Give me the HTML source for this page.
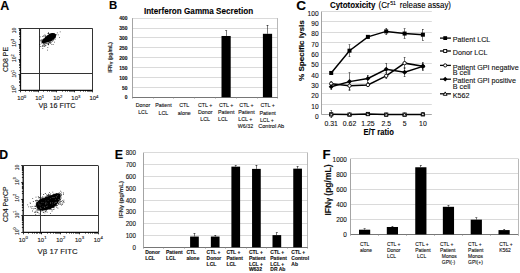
<!DOCTYPE html>
<html><head><meta charset="utf-8"><style>
html,body{margin:0;padding:0;background:#fff;overflow:hidden;width:520px;height:273px;}
svg{display:block;font-family:"Liberation Sans", sans-serif;}
text{stroke:#000;stroke-width:0.12px;paint-order:stroke;}
</style></head><body>
<svg width="520" height="273" viewBox="0 0 520 273">
<rect width="520" height="273" fill="#fff"/>
<line x1="20.50" y1="28.50" x2="92.70" y2="28.50" stroke="#333" stroke-width="1.0"/>
<line x1="92.50" y1="28.60" x2="92.50" y2="90.30" stroke="#333" stroke-width="1.0"/>
<line x1="20.50" y1="28.60" x2="20.50" y2="90.30" stroke="#111" stroke-width="1.3"/>
<line x1="20.50" y1="90.30" x2="92.70" y2="90.30" stroke="#111" stroke-width="1.3"/>
<line x1="39.50" y1="28.60" x2="39.50" y2="90.30" stroke="#333" stroke-width="1.0"/>
<line x1="20.50" y1="73.50" x2="92.70" y2="73.50" stroke="#333" stroke-width="1.0"/>
<line x1="20.50" y1="90.30" x2="20.50" y2="92.30" stroke="#000" stroke-width="0.8"/>
<line x1="18.50" y1="90.50" x2="20.50" y2="90.50" stroke="#000" stroke-width="0.8"/>
<line x1="25.50" y1="90.30" x2="25.50" y2="91.60" stroke="#000" stroke-width="0.8"/>
<line x1="19.20" y1="85.50" x2="20.50" y2="85.50" stroke="#000" stroke-width="0.8"/>
<line x1="29.50" y1="90.30" x2="29.50" y2="91.60" stroke="#000" stroke-width="0.8"/>
<line x1="19.20" y1="82.50" x2="20.50" y2="82.50" stroke="#000" stroke-width="0.8"/>
<line x1="31.50" y1="90.30" x2="31.50" y2="91.60" stroke="#000" stroke-width="0.8"/>
<line x1="19.20" y1="81.50" x2="20.50" y2="81.50" stroke="#000" stroke-width="0.8"/>
<line x1="33.50" y1="90.30" x2="33.50" y2="91.60" stroke="#000" stroke-width="0.8"/>
<line x1="19.20" y1="79.50" x2="20.50" y2="79.50" stroke="#000" stroke-width="0.8"/>
<line x1="34.50" y1="90.30" x2="34.50" y2="91.60" stroke="#000" stroke-width="0.8"/>
<line x1="19.20" y1="78.50" x2="20.50" y2="78.50" stroke="#000" stroke-width="0.8"/>
<line x1="35.50" y1="90.30" x2="35.50" y2="91.60" stroke="#000" stroke-width="0.8"/>
<line x1="19.20" y1="77.50" x2="20.50" y2="77.50" stroke="#000" stroke-width="0.8"/>
<line x1="36.50" y1="90.30" x2="36.50" y2="91.60" stroke="#000" stroke-width="0.8"/>
<line x1="19.20" y1="76.50" x2="20.50" y2="76.50" stroke="#000" stroke-width="0.8"/>
<line x1="37.50" y1="90.30" x2="37.50" y2="91.60" stroke="#000" stroke-width="0.8"/>
<line x1="19.20" y1="75.50" x2="20.50" y2="75.50" stroke="#000" stroke-width="0.8"/>
<line x1="38.50" y1="90.30" x2="38.50" y2="92.30" stroke="#000" stroke-width="0.8"/>
<line x1="18.50" y1="74.50" x2="20.50" y2="74.50" stroke="#000" stroke-width="0.8"/>
<line x1="43.50" y1="90.30" x2="43.50" y2="91.60" stroke="#000" stroke-width="0.8"/>
<line x1="19.20" y1="70.50" x2="20.50" y2="70.50" stroke="#000" stroke-width="0.8"/>
<line x1="47.50" y1="90.30" x2="47.50" y2="91.60" stroke="#000" stroke-width="0.8"/>
<line x1="19.20" y1="67.50" x2="20.50" y2="67.50" stroke="#000" stroke-width="0.8"/>
<line x1="49.50" y1="90.30" x2="49.50" y2="91.60" stroke="#000" stroke-width="0.8"/>
<line x1="19.20" y1="65.50" x2="20.50" y2="65.50" stroke="#000" stroke-width="0.8"/>
<line x1="51.50" y1="90.30" x2="51.50" y2="91.60" stroke="#000" stroke-width="0.8"/>
<line x1="19.20" y1="64.50" x2="20.50" y2="64.50" stroke="#000" stroke-width="0.8"/>
<line x1="52.50" y1="90.30" x2="52.50" y2="91.60" stroke="#000" stroke-width="0.8"/>
<line x1="19.20" y1="62.50" x2="20.50" y2="62.50" stroke="#000" stroke-width="0.8"/>
<line x1="53.50" y1="90.30" x2="53.50" y2="91.60" stroke="#000" stroke-width="0.8"/>
<line x1="19.20" y1="61.50" x2="20.50" y2="61.50" stroke="#000" stroke-width="0.8"/>
<line x1="54.50" y1="90.30" x2="54.50" y2="91.60" stroke="#000" stroke-width="0.8"/>
<line x1="19.20" y1="60.50" x2="20.50" y2="60.50" stroke="#000" stroke-width="0.8"/>
<line x1="55.50" y1="90.30" x2="55.50" y2="91.60" stroke="#000" stroke-width="0.8"/>
<line x1="19.20" y1="60.50" x2="20.50" y2="60.50" stroke="#000" stroke-width="0.8"/>
<line x1="56.50" y1="90.30" x2="56.50" y2="92.30" stroke="#000" stroke-width="0.8"/>
<line x1="18.50" y1="59.50" x2="20.50" y2="59.50" stroke="#000" stroke-width="0.8"/>
<line x1="62.50" y1="90.30" x2="62.50" y2="91.60" stroke="#000" stroke-width="0.8"/>
<line x1="19.20" y1="54.50" x2="20.50" y2="54.50" stroke="#000" stroke-width="0.8"/>
<line x1="65.50" y1="90.30" x2="65.50" y2="91.60" stroke="#000" stroke-width="0.8"/>
<line x1="19.20" y1="52.50" x2="20.50" y2="52.50" stroke="#000" stroke-width="0.8"/>
<line x1="67.50" y1="90.30" x2="67.50" y2="91.60" stroke="#000" stroke-width="0.8"/>
<line x1="19.20" y1="50.50" x2="20.50" y2="50.50" stroke="#000" stroke-width="0.8"/>
<line x1="69.50" y1="90.30" x2="69.50" y2="91.60" stroke="#000" stroke-width="0.8"/>
<line x1="19.20" y1="48.50" x2="20.50" y2="48.50" stroke="#000" stroke-width="0.8"/>
<line x1="70.50" y1="90.30" x2="70.50" y2="91.60" stroke="#000" stroke-width="0.8"/>
<line x1="19.20" y1="47.50" x2="20.50" y2="47.50" stroke="#000" stroke-width="0.8"/>
<line x1="71.50" y1="90.30" x2="71.50" y2="91.60" stroke="#000" stroke-width="0.8"/>
<line x1="19.20" y1="46.50" x2="20.50" y2="46.50" stroke="#000" stroke-width="0.8"/>
<line x1="72.50" y1="90.30" x2="72.50" y2="91.60" stroke="#000" stroke-width="0.8"/>
<line x1="19.20" y1="45.50" x2="20.50" y2="45.50" stroke="#000" stroke-width="0.8"/>
<line x1="73.50" y1="90.30" x2="73.50" y2="91.60" stroke="#000" stroke-width="0.8"/>
<line x1="19.20" y1="44.50" x2="20.50" y2="44.50" stroke="#000" stroke-width="0.8"/>
<line x1="74.50" y1="90.30" x2="74.50" y2="92.30" stroke="#000" stroke-width="0.8"/>
<line x1="18.50" y1="44.50" x2="20.50" y2="44.50" stroke="#000" stroke-width="0.8"/>
<line x1="80.50" y1="90.30" x2="80.50" y2="91.60" stroke="#000" stroke-width="0.8"/>
<line x1="19.20" y1="39.50" x2="20.50" y2="39.50" stroke="#000" stroke-width="0.8"/>
<line x1="83.50" y1="90.30" x2="83.50" y2="91.60" stroke="#000" stroke-width="0.8"/>
<line x1="19.20" y1="36.50" x2="20.50" y2="36.50" stroke="#000" stroke-width="0.8"/>
<line x1="85.50" y1="90.30" x2="85.50" y2="91.60" stroke="#000" stroke-width="0.8"/>
<line x1="19.20" y1="34.50" x2="20.50" y2="34.50" stroke="#000" stroke-width="0.8"/>
<line x1="87.50" y1="90.30" x2="87.50" y2="91.60" stroke="#000" stroke-width="0.8"/>
<line x1="19.20" y1="33.50" x2="20.50" y2="33.50" stroke="#000" stroke-width="0.8"/>
<line x1="88.50" y1="90.30" x2="88.50" y2="91.60" stroke="#000" stroke-width="0.8"/>
<line x1="19.20" y1="32.50" x2="20.50" y2="32.50" stroke="#000" stroke-width="0.8"/>
<line x1="89.50" y1="90.30" x2="89.50" y2="91.60" stroke="#000" stroke-width="0.8"/>
<line x1="19.20" y1="30.50" x2="20.50" y2="30.50" stroke="#000" stroke-width="0.8"/>
<line x1="90.50" y1="90.30" x2="90.50" y2="91.60" stroke="#000" stroke-width="0.8"/>
<line x1="19.20" y1="30.50" x2="20.50" y2="30.50" stroke="#000" stroke-width="0.8"/>
<line x1="91.50" y1="90.30" x2="91.50" y2="91.60" stroke="#000" stroke-width="0.8"/>
<line x1="19.20" y1="29.50" x2="20.50" y2="29.50" stroke="#000" stroke-width="0.8"/>
<line x1="92.50" y1="90.30" x2="92.50" y2="92.30" stroke="#000" stroke-width="0.8"/>
<line x1="18.50" y1="28.50" x2="20.50" y2="28.50" stroke="#000" stroke-width="0.8"/>
<text x="21.70" y="100.00" font-size="5.9" text-anchor="middle" fill="#222">10<tspan font-size="4.3" dy="-2.5">0</tspan></text>
<text x="16.20" y="89.10" font-size="5.0" text-anchor="middle" fill="#222" transform="rotate(-90 16.20 89.10)">10<tspan font-size="3.8" dy="-2.3">0</tspan></text>
<text x="39.75" y="100.00" font-size="5.9" text-anchor="middle" fill="#222">10<tspan font-size="4.3" dy="-2.5">1</tspan></text>
<text x="16.20" y="73.67" font-size="5.0" text-anchor="middle" fill="#222" transform="rotate(-90 16.20 73.67)">10<tspan font-size="3.8" dy="-2.3">1</tspan></text>
<text x="57.80" y="100.00" font-size="5.9" text-anchor="middle" fill="#222">10<tspan font-size="4.3" dy="-2.5">2</tspan></text>
<text x="16.20" y="58.25" font-size="5.0" text-anchor="middle" fill="#222" transform="rotate(-90 16.20 58.25)">10<tspan font-size="3.8" dy="-2.3">2</tspan></text>
<text x="75.85" y="100.00" font-size="5.9" text-anchor="middle" fill="#222">10<tspan font-size="4.3" dy="-2.5">3</tspan></text>
<text x="16.20" y="42.82" font-size="5.0" text-anchor="middle" fill="#222" transform="rotate(-90 16.20 42.82)">10<tspan font-size="3.8" dy="-2.3">3</tspan></text>
<text x="93.90" y="100.00" font-size="5.9" text-anchor="middle" fill="#222">10<tspan font-size="4.3" dy="-2.5">4</tspan></text>
<text x="16.20" y="30.40" font-size="5.0" text-anchor="middle" fill="#222" transform="rotate(-90 16.20 30.40)">10</text>
<text transform="translate(0.30 9.50)" font-size="12.50" text-anchor="start" font-weight="bold" fill="#000">A</text>
<text transform="translate(57.00 108.20)" font-size="7.30" text-anchor="middle" fill="#111" textLength="37.20" lengthAdjust="spacingAndGlyphs">V&#946; 16 FITC</text>
<text transform="translate(8.20 59.50) rotate(-90)" font-size="7.30" text-anchor="middle" fill="#111" textLength="25.20" lengthAdjust="spacingAndGlyphs">CD8 PE</text>
<line x1="23.20" y1="165.50" x2="98.20" y2="165.50" stroke="#333" stroke-width="1.0"/>
<line x1="98.50" y1="165.70" x2="98.50" y2="232.30" stroke="#333" stroke-width="1.0"/>
<line x1="23.20" y1="165.70" x2="23.20" y2="232.30" stroke="#111" stroke-width="1.3"/>
<line x1="23.20" y1="232.30" x2="98.20" y2="232.30" stroke="#111" stroke-width="1.3"/>
<line x1="40.50" y1="165.70" x2="40.50" y2="232.30" stroke="#333" stroke-width="1.0"/>
<line x1="23.20" y1="215.50" x2="98.20" y2="215.50" stroke="#333" stroke-width="1.0"/>
<line x1="23.50" y1="232.30" x2="23.50" y2="234.30" stroke="#000" stroke-width="0.8"/>
<line x1="21.20" y1="232.50" x2="23.20" y2="232.50" stroke="#000" stroke-width="0.8"/>
<line x1="28.50" y1="232.30" x2="28.50" y2="233.60" stroke="#000" stroke-width="0.8"/>
<line x1="21.90" y1="227.50" x2="23.20" y2="227.50" stroke="#000" stroke-width="0.8"/>
<line x1="32.50" y1="232.30" x2="32.50" y2="233.60" stroke="#000" stroke-width="0.8"/>
<line x1="21.90" y1="224.50" x2="23.20" y2="224.50" stroke="#000" stroke-width="0.8"/>
<line x1="34.50" y1="232.30" x2="34.50" y2="233.60" stroke="#000" stroke-width="0.8"/>
<line x1="21.90" y1="222.50" x2="23.20" y2="222.50" stroke="#000" stroke-width="0.8"/>
<line x1="36.50" y1="232.30" x2="36.50" y2="233.60" stroke="#000" stroke-width="0.8"/>
<line x1="21.90" y1="220.50" x2="23.20" y2="220.50" stroke="#000" stroke-width="0.8"/>
<line x1="37.50" y1="232.30" x2="37.50" y2="233.60" stroke="#000" stroke-width="0.8"/>
<line x1="21.90" y1="219.50" x2="23.20" y2="219.50" stroke="#000" stroke-width="0.8"/>
<line x1="39.50" y1="232.30" x2="39.50" y2="233.60" stroke="#000" stroke-width="0.8"/>
<line x1="21.90" y1="218.50" x2="23.20" y2="218.50" stroke="#000" stroke-width="0.8"/>
<line x1="40.50" y1="232.30" x2="40.50" y2="233.60" stroke="#000" stroke-width="0.8"/>
<line x1="21.90" y1="217.50" x2="23.20" y2="217.50" stroke="#000" stroke-width="0.8"/>
<line x1="41.50" y1="232.30" x2="41.50" y2="233.60" stroke="#000" stroke-width="0.8"/>
<line x1="21.90" y1="216.50" x2="23.20" y2="216.50" stroke="#000" stroke-width="0.8"/>
<line x1="41.50" y1="232.30" x2="41.50" y2="234.30" stroke="#000" stroke-width="0.8"/>
<line x1="21.20" y1="215.50" x2="23.20" y2="215.50" stroke="#000" stroke-width="0.8"/>
<line x1="47.50" y1="232.30" x2="47.50" y2="233.60" stroke="#000" stroke-width="0.8"/>
<line x1="21.90" y1="210.50" x2="23.20" y2="210.50" stroke="#000" stroke-width="0.8"/>
<line x1="50.50" y1="232.30" x2="50.50" y2="233.60" stroke="#000" stroke-width="0.8"/>
<line x1="21.90" y1="207.50" x2="23.20" y2="207.50" stroke="#000" stroke-width="0.8"/>
<line x1="53.50" y1="232.30" x2="53.50" y2="233.60" stroke="#000" stroke-width="0.8"/>
<line x1="21.90" y1="205.50" x2="23.20" y2="205.50" stroke="#000" stroke-width="0.8"/>
<line x1="55.50" y1="232.30" x2="55.50" y2="233.60" stroke="#000" stroke-width="0.8"/>
<line x1="21.90" y1="204.50" x2="23.20" y2="204.50" stroke="#000" stroke-width="0.8"/>
<line x1="56.50" y1="232.30" x2="56.50" y2="233.60" stroke="#000" stroke-width="0.8"/>
<line x1="21.90" y1="202.50" x2="23.20" y2="202.50" stroke="#000" stroke-width="0.8"/>
<line x1="57.50" y1="232.30" x2="57.50" y2="233.60" stroke="#000" stroke-width="0.8"/>
<line x1="21.90" y1="201.50" x2="23.20" y2="201.50" stroke="#000" stroke-width="0.8"/>
<line x1="58.50" y1="232.30" x2="58.50" y2="233.60" stroke="#000" stroke-width="0.8"/>
<line x1="21.90" y1="200.50" x2="23.20" y2="200.50" stroke="#000" stroke-width="0.8"/>
<line x1="59.50" y1="232.30" x2="59.50" y2="233.60" stroke="#000" stroke-width="0.8"/>
<line x1="21.90" y1="199.50" x2="23.20" y2="199.50" stroke="#000" stroke-width="0.8"/>
<line x1="60.50" y1="232.30" x2="60.50" y2="234.30" stroke="#000" stroke-width="0.8"/>
<line x1="21.20" y1="199.50" x2="23.20" y2="199.50" stroke="#000" stroke-width="0.8"/>
<line x1="66.50" y1="232.30" x2="66.50" y2="233.60" stroke="#000" stroke-width="0.8"/>
<line x1="21.90" y1="193.50" x2="23.20" y2="193.50" stroke="#000" stroke-width="0.8"/>
<line x1="69.50" y1="232.30" x2="69.50" y2="233.60" stroke="#000" stroke-width="0.8"/>
<line x1="21.90" y1="191.50" x2="23.20" y2="191.50" stroke="#000" stroke-width="0.8"/>
<line x1="71.50" y1="232.30" x2="71.50" y2="233.60" stroke="#000" stroke-width="0.8"/>
<line x1="21.90" y1="188.50" x2="23.20" y2="188.50" stroke="#000" stroke-width="0.8"/>
<line x1="73.50" y1="232.30" x2="73.50" y2="233.60" stroke="#000" stroke-width="0.8"/>
<line x1="21.90" y1="187.50" x2="23.20" y2="187.50" stroke="#000" stroke-width="0.8"/>
<line x1="75.50" y1="232.30" x2="75.50" y2="233.60" stroke="#000" stroke-width="0.8"/>
<line x1="21.90" y1="186.50" x2="23.20" y2="186.50" stroke="#000" stroke-width="0.8"/>
<line x1="76.50" y1="232.30" x2="76.50" y2="233.60" stroke="#000" stroke-width="0.8"/>
<line x1="21.90" y1="184.50" x2="23.20" y2="184.50" stroke="#000" stroke-width="0.8"/>
<line x1="77.50" y1="232.30" x2="77.50" y2="233.60" stroke="#000" stroke-width="0.8"/>
<line x1="21.90" y1="183.50" x2="23.20" y2="183.50" stroke="#000" stroke-width="0.8"/>
<line x1="78.50" y1="232.30" x2="78.50" y2="233.60" stroke="#000" stroke-width="0.8"/>
<line x1="21.90" y1="183.50" x2="23.20" y2="183.50" stroke="#000" stroke-width="0.8"/>
<line x1="79.50" y1="232.30" x2="79.50" y2="234.30" stroke="#000" stroke-width="0.8"/>
<line x1="21.20" y1="182.50" x2="23.20" y2="182.50" stroke="#000" stroke-width="0.8"/>
<line x1="85.50" y1="232.30" x2="85.50" y2="233.60" stroke="#000" stroke-width="0.8"/>
<line x1="21.90" y1="177.50" x2="23.20" y2="177.50" stroke="#000" stroke-width="0.8"/>
<line x1="88.50" y1="232.30" x2="88.50" y2="233.60" stroke="#000" stroke-width="0.8"/>
<line x1="21.90" y1="174.50" x2="23.20" y2="174.50" stroke="#000" stroke-width="0.8"/>
<line x1="90.50" y1="232.30" x2="90.50" y2="233.60" stroke="#000" stroke-width="0.8"/>
<line x1="21.90" y1="172.50" x2="23.20" y2="172.50" stroke="#000" stroke-width="0.8"/>
<line x1="92.50" y1="232.30" x2="92.50" y2="233.60" stroke="#000" stroke-width="0.8"/>
<line x1="21.90" y1="170.50" x2="23.20" y2="170.50" stroke="#000" stroke-width="0.8"/>
<line x1="94.50" y1="232.30" x2="94.50" y2="233.60" stroke="#000" stroke-width="0.8"/>
<line x1="21.90" y1="169.50" x2="23.20" y2="169.50" stroke="#000" stroke-width="0.8"/>
<line x1="95.50" y1="232.30" x2="95.50" y2="233.60" stroke="#000" stroke-width="0.8"/>
<line x1="21.90" y1="168.50" x2="23.20" y2="168.50" stroke="#000" stroke-width="0.8"/>
<line x1="96.50" y1="232.30" x2="96.50" y2="233.60" stroke="#000" stroke-width="0.8"/>
<line x1="21.90" y1="167.50" x2="23.20" y2="167.50" stroke="#000" stroke-width="0.8"/>
<line x1="97.50" y1="232.30" x2="97.50" y2="233.60" stroke="#000" stroke-width="0.8"/>
<line x1="21.90" y1="166.50" x2="23.20" y2="166.50" stroke="#000" stroke-width="0.8"/>
<line x1="98.50" y1="232.30" x2="98.50" y2="234.30" stroke="#000" stroke-width="0.8"/>
<line x1="21.20" y1="165.50" x2="23.20" y2="165.50" stroke="#000" stroke-width="0.8"/>
<text x="23.30" y="241.80" font-size="5.9" text-anchor="middle" fill="#222">10<tspan font-size="4.3" dy="-2.5">0</tspan></text>
<text x="18.60" y="231.10" font-size="5.0" text-anchor="middle" fill="#222" transform="rotate(-90 18.60 231.10)">10<tspan font-size="3.8" dy="-2.3">0</tspan></text>
<text x="42.05" y="241.80" font-size="5.9" text-anchor="middle" fill="#222">10<tspan font-size="4.3" dy="-2.5">1</tspan></text>
<text x="18.60" y="214.45" font-size="5.0" text-anchor="middle" fill="#222" transform="rotate(-90 18.60 214.45)">10<tspan font-size="3.8" dy="-2.3">1</tspan></text>
<text x="60.80" y="241.80" font-size="5.9" text-anchor="middle" fill="#222">10<tspan font-size="4.3" dy="-2.5">2</tspan></text>
<text x="18.60" y="197.80" font-size="5.0" text-anchor="middle" fill="#222" transform="rotate(-90 18.60 197.80)">10<tspan font-size="3.8" dy="-2.3">2</tspan></text>
<text x="79.55" y="241.80" font-size="5.9" text-anchor="middle" fill="#222">10<tspan font-size="4.3" dy="-2.5">3</tspan></text>
<text x="18.60" y="181.15" font-size="5.0" text-anchor="middle" fill="#222" transform="rotate(-90 18.60 181.15)">10<tspan font-size="3.8" dy="-2.3">3</tspan></text>
<text x="98.30" y="241.80" font-size="5.9" text-anchor="middle" fill="#222">10<tspan font-size="4.3" dy="-2.5">4</tspan></text>
<text x="18.60" y="167.50" font-size="5.0" text-anchor="middle" fill="#222" transform="rotate(-90 18.60 167.50)">10</text>
<text transform="translate(-0.80 158.60)" font-size="12.20" text-anchor="start" font-weight="bold" fill="#000">D</text>
<text transform="translate(57.60 254.30)" font-size="7.80" text-anchor="middle" fill="#111" textLength="40.00" lengthAdjust="spacingAndGlyphs">V&#946; 17 FITC</text>
<text transform="translate(7.60 204.20) rotate(-90)" font-size="7.80" text-anchor="middle" fill="#111" textLength="35.50" lengthAdjust="spacingAndGlyphs">CD4 PerCP</text>
<circle cx="43.4" cy="41.8" r="1.7" fill="#000"/>
<circle cx="45.2" cy="40.6" r="2.4" fill="#000"/>
<circle cx="47.2" cy="39.3" r="2.9" fill="#000"/>
<circle cx="49.3" cy="38.0" r="3.2" fill="#000"/>
<circle cx="51.2" cy="36.8" r="3.3" fill="#000"/>
<circle cx="52.8" cy="36.0" r="3.0" fill="#000"/>
<circle cx="53.8" cy="35.6" r="2.2" fill="#000"/>
<path d="M44.4,42.6h0.8v0.8h-0.8zM51.0,35.7h0.8v0.8h-0.8zM43.4,41.9h0.8v0.8h-0.8zM51.3,40.1h0.8v0.8h-0.8zM42.2,39.2h0.8v0.8h-0.8zM51.3,38.3h0.8v0.8h-0.8zM54.9,37.5h0.8v0.8h-0.8zM47.5,38.7h0.8v0.8h-0.8zM56.9,32.5h0.8v0.8h-0.8zM43.9,38.5h0.8v0.8h-0.8zM48.7,39.1h0.8v0.8h-0.8zM46.9,39.7h0.8v0.8h-0.8zM50.1,39.8h0.8v0.8h-0.8zM52.3,36.9h0.8v0.8h-0.8zM42.8,44.5h0.8v0.8h-0.8zM43.0,41.9h0.8v0.8h-0.8zM43.0,42.4h0.8v0.8h-0.8zM45.7,41.2h0.8v0.8h-0.8zM59.8,31.4h0.8v0.8h-0.8zM49.4,34.4h0.8v0.8h-0.8zM48.1,41.0h0.8v0.8h-0.8zM48.4,40.0h0.8v0.8h-0.8zM47.2,36.7h0.8v0.8h-0.8zM49.1,36.1h0.8v0.8h-0.8zM54.1,33.7h0.8v0.8h-0.8zM50.6,37.4h0.8v0.8h-0.8zM50.8,35.6h0.8v0.8h-0.8zM51.6,36.5h0.8v0.8h-0.8zM53.5,37.4h0.8v0.8h-0.8zM47.7,37.1h0.8v0.8h-0.8zM51.5,38.2h0.8v0.8h-0.8zM53.5,34.5h0.8v0.8h-0.8zM50.8,38.8h0.8v0.8h-0.8zM49.5,38.8h0.8v0.8h-0.8zM48.1,37.4h0.8v0.8h-0.8zM44.1,40.5h0.8v0.8h-0.8zM52.3,40.7h0.8v0.8h-0.8zM53.0,38.9h0.8v0.8h-0.8zM51.9,38.6h0.8v0.8h-0.8zM49.9,40.1h0.8v0.8h-0.8zM54.0,34.3h0.8v0.8h-0.8zM48.3,44.5h0.8v0.8h-0.8zM50.3,40.4h0.8v0.8h-0.8zM49.8,34.7h0.8v0.8h-0.8zM59.1,37.0h0.8v0.8h-0.8zM49.8,40.1h0.8v0.8h-0.8zM47.5,36.9h0.8v0.8h-0.8zM48.3,40.0h0.8v0.8h-0.8zM53.1,37.9h0.8v0.8h-0.8zM50.2,41.6h0.8v0.8h-0.8zM46.6,42.3h0.8v0.8h-0.8zM51.7,35.9h0.8v0.8h-0.8zM40.7,41.3h0.8v0.8h-0.8zM49.7,39.5h0.8v0.8h-0.8zM52.3,33.4h0.8v0.8h-0.8zM49.1,40.3h0.8v0.8h-0.8zM44.5,34.6h0.8v0.8h-0.8zM54.1,41.8h0.8v0.8h-0.8zM50.5,34.9h0.8v0.8h-0.8zM47.0,40.4h0.8v0.8h-0.8zM57.8,34.5h0.8v0.8h-0.8zM50.6,41.9h0.8v0.8h-0.8zM50.3,42.9h0.8v0.8h-0.8zM45.2,39.6h0.8v0.8h-0.8zM52.6,40.2h0.8v0.8h-0.8zM50.9,38.1h0.8v0.8h-0.8zM40.9,41.7h0.8v0.8h-0.8zM45.4,39.3h0.8v0.8h-0.8zM49.8,37.0h0.8v0.8h-0.8zM51.1,37.4h0.8v0.8h-0.8zM47.2,40.0h0.8v0.8h-0.8zM50.8,39.7h0.8v0.8h-0.8zM46.2,39.6h0.8v0.8h-0.8zM45.5,45.3h0.8v0.8h-0.8zM53.1,35.3h0.8v0.8h-0.8zM44.9,37.6h0.8v0.8h-0.8zM49.1,39.0h0.8v0.8h-0.8zM56.2,34.5h0.8v0.8h-0.8zM42.3,35.9h0.8v0.8h-0.8zM53.4,36.2h0.8v0.8h-0.8zM42.8,43.0h0.8v0.8h-0.8zM47.1,49.7h0.8v0.8h-0.8zM52.9,37.6h0.8v0.8h-0.8zM44.8,35.1h0.8v0.8h-0.8zM45.7,36.2h0.8v0.8h-0.8zM47.5,33.3h0.8v0.8h-0.8zM46.6,43.5h0.8v0.8h-0.8zM52.4,32.9h0.8v0.8h-0.8zM43.9,44.3h0.8v0.8h-0.8zM49.9,35.1h0.8v0.8h-0.8zM44.8,39.2h0.8v0.8h-0.8zM43.1,40.4h0.8v0.8h-0.8zM53.5,37.5h0.8v0.8h-0.8zM55.3,34.1h0.8v0.8h-0.8zM46.4,37.3h0.8v0.8h-0.8zM46.0,36.6h0.8v0.8h-0.8zM42.9,44.5h0.8v0.8h-0.8zM54.4,37.4h0.8v0.8h-0.8zM53.2,36.5h0.8v0.8h-0.8zM45.8,40.8h0.8v0.8h-0.8zM45.4,37.6h0.8v0.8h-0.8zM40.3,39.9h0.8v0.8h-0.8zM48.4,39.3h0.8v0.8h-0.8zM48.4,43.0h0.8v0.8h-0.8zM49.6,39.8h0.8v0.8h-0.8zM51.4,34.6h0.8v0.8h-0.8zM42.2,45.0h0.8v0.8h-0.8zM47.5,43.2h0.8v0.8h-0.8zM50.7,40.3h0.8v0.8h-0.8zM48.2,33.1h0.8v0.8h-0.8zM49.9,36.0h0.8v0.8h-0.8zM45.0,39.9h0.8v0.8h-0.8zM52.1,39.0h0.8v0.8h-0.8zM49.6,33.3h0.8v0.8h-0.8zM43.0,35.6h0.8v0.8h-0.8zM48.6,40.4h0.8v0.8h-0.8zM45.8,41.2h0.8v0.8h-0.8zM50.3,40.5h0.8v0.8h-0.8zM44.2,39.2h0.8v0.8h-0.8zM47.8,44.3h0.8v0.8h-0.8zM51.9,36.3h0.8v0.8h-0.8zM49.1,38.7h0.8v0.8h-0.8zM48.6,38.1h0.8v0.8h-0.8zM45.4,37.2h0.8v0.8h-0.8zM48.1,43.8h0.8v0.8h-0.8zM50.2,37.9h0.8v0.8h-0.8zM47.5,39.6h0.8v0.8h-0.8zM48.6,36.9h0.8v0.8h-0.8zM49.2,39.0h0.8v0.8h-0.8zM44.5,39.1h0.8v0.8h-0.8zM43.3,39.1h0.8v0.8h-0.8zM48.2,32.2h0.8v0.8h-0.8zM46.5,38.4h0.8v0.8h-0.8zM46.1,40.6h0.8v0.8h-0.8zM52.3,36.6h0.8v0.8h-0.8zM46.9,38.1h0.8v0.8h-0.8zM48.9,41.1h0.8v0.8h-0.8zM45.3,37.6h0.8v0.8h-0.8zM42.3,39.7h0.8v0.8h-0.8zM44.7,44.4h0.8v0.8h-0.8zM49.1,37.7h0.8v0.8h-0.8zM52.5,34.3h0.8v0.8h-0.8zM51.9,38.9h0.8v0.8h-0.8zM40.7,39.4h0.8v0.8h-0.8zM46.1,42.9h0.8v0.8h-0.8zM51.2,33.6h0.8v0.8h-0.8zM51.4,35.8h0.8v0.8h-0.8zM46.1,38.8h0.8v0.8h-0.8zM44.7,36.1h0.8v0.8h-0.8zM43.1,38.8h0.8v0.8h-0.8z" fill="#000" opacity="0.85"/>
<path d="M40.4,46.1h0.8v0.8h-0.8zM43.7,41.5h0.8v0.8h-0.8zM49.3,39.8h0.8v0.8h-0.8zM47.4,47.2h0.8v0.8h-0.8zM41.6,40.0h0.8v0.8h-0.8zM39.5,44.0h0.8v0.8h-0.8zM49.4,42.5h0.8v0.8h-0.8zM52.8,43.9h0.8v0.8h-0.8zM53.1,39.5h0.8v0.8h-0.8zM51.8,40.4h0.8v0.8h-0.8zM44.9,45.5h0.8v0.8h-0.8zM45.6,41.3h0.8v0.8h-0.8zM54.6,39.0h0.8v0.8h-0.8zM43.8,43.0h0.8v0.8h-0.8zM54.3,35.6h0.8v0.8h-0.8zM49.6,41.8h0.8v0.8h-0.8zM48.7,42.2h0.8v0.8h-0.8zM43.2,42.0h0.8v0.8h-0.8zM44.6,41.5h0.8v0.8h-0.8zM51.4,43.9h0.8v0.8h-0.8zM43.3,45.6h0.8v0.8h-0.8zM40.9,42.7h0.8v0.8h-0.8zM45.1,42.9h0.8v0.8h-0.8zM39.8,36.4h0.8v0.8h-0.8zM50.7,37.9h0.8v0.8h-0.8zM44.5,45.3h0.8v0.8h-0.8zM41.1,39.8h0.8v0.8h-0.8zM48.4,41.9h0.8v0.8h-0.8zM44.0,46.2h0.8v0.8h-0.8zM45.4,38.2h0.8v0.8h-0.8zM52.9,38.3h0.8v0.8h-0.8zM42.2,46.0h0.8v0.8h-0.8zM47.9,44.2h0.8v0.8h-0.8zM42.4,48.0h0.8v0.8h-0.8zM50.6,41.4h0.8v0.8h-0.8z" fill="#000" opacity="0.85"/>
<path d="M36.2,203.4 C37.0,201.0 39.5,199.6 42.5,198.4 C46.0,197.0 49.5,195.6 53.0,194.4 C55.8,193.4 58.6,192.8 60.0,193.8 C61.4,195.0 60.8,197.8 59.4,200.4 C57.8,203.4 55.6,206.0 52.6,207.8 C49.6,209.6 45.8,210.4 42.4,210.4 C39.4,210.4 37.0,209.2 36.4,207.0 C36.0,205.8 36.0,204.4 36.2,203.4 Z" fill="#000"/>
<path d="M54.9,204.7h0.8v0.8h-0.8zM42.6,201.2h0.8v0.8h-0.8zM53.0,207.1h0.8v0.8h-0.8zM49.5,197.4h0.8v0.8h-0.8zM43.9,203.9h0.8v0.8h-0.8zM54.3,199.9h0.8v0.8h-0.8zM46.1,202.4h0.8v0.8h-0.8zM48.7,199.4h0.8v0.8h-0.8zM49.0,203.1h0.8v0.8h-0.8zM58.4,198.1h0.8v0.8h-0.8zM53.1,196.5h0.8v0.8h-0.8zM54.0,200.7h0.8v0.8h-0.8zM45.4,203.5h0.8v0.8h-0.8zM53.6,199.0h0.8v0.8h-0.8zM56.8,204.7h0.8v0.8h-0.8zM60.5,203.6h0.8v0.8h-0.8zM41.5,206.4h0.8v0.8h-0.8zM45.8,207.0h0.8v0.8h-0.8zM49.4,202.8h0.8v0.8h-0.8zM50.6,199.2h0.8v0.8h-0.8zM48.3,199.6h0.8v0.8h-0.8zM60.6,195.7h0.8v0.8h-0.8zM46.4,196.4h0.8v0.8h-0.8zM38.7,203.1h0.8v0.8h-0.8zM54.5,202.8h0.8v0.8h-0.8zM49.5,199.4h0.8v0.8h-0.8zM58.4,194.4h0.8v0.8h-0.8zM44.2,205.9h0.8v0.8h-0.8zM43.0,205.5h0.8v0.8h-0.8zM54.4,199.6h0.8v0.8h-0.8zM51.2,201.4h0.8v0.8h-0.8zM40.4,193.5h0.8v0.8h-0.8zM41.3,205.2h0.8v0.8h-0.8zM38.0,204.4h0.8v0.8h-0.8zM51.7,206.1h0.8v0.8h-0.8zM39.7,203.8h0.8v0.8h-0.8zM50.7,203.4h0.8v0.8h-0.8zM42.8,211.7h0.8v0.8h-0.8zM45.2,207.8h0.8v0.8h-0.8zM48.0,204.1h0.8v0.8h-0.8zM59.7,200.5h0.8v0.8h-0.8zM48.1,198.6h0.8v0.8h-0.8zM42.8,199.1h0.8v0.8h-0.8zM58.8,192.2h0.8v0.8h-0.8zM35.3,213.9h0.8v0.8h-0.8zM55.9,197.9h0.8v0.8h-0.8zM52.6,197.5h0.8v0.8h-0.8zM45.8,205.3h0.8v0.8h-0.8zM50.4,199.8h0.8v0.8h-0.8zM59.5,200.7h0.8v0.8h-0.8zM47.9,198.0h0.8v0.8h-0.8zM49.1,200.8h0.8v0.8h-0.8zM49.3,205.1h0.8v0.8h-0.8zM45.5,204.5h0.8v0.8h-0.8zM54.0,201.4h0.8v0.8h-0.8zM60.2,190.8h0.8v0.8h-0.8zM46.7,198.5h0.8v0.8h-0.8zM51.6,210.7h0.8v0.8h-0.8zM38.3,205.3h0.8v0.8h-0.8zM52.7,200.9h0.8v0.8h-0.8zM52.1,194.8h0.8v0.8h-0.8zM53.3,196.7h0.8v0.8h-0.8zM42.0,207.1h0.8v0.8h-0.8zM50.5,198.6h0.8v0.8h-0.8zM43.4,203.6h0.8v0.8h-0.8zM48.3,201.7h0.8v0.8h-0.8zM39.3,197.0h0.8v0.8h-0.8zM56.8,199.6h0.8v0.8h-0.8zM38.9,200.1h0.8v0.8h-0.8zM43.8,202.5h0.8v0.8h-0.8zM37.5,212.1h0.8v0.8h-0.8zM50.7,200.1h0.8v0.8h-0.8zM51.0,202.1h0.8v0.8h-0.8zM55.2,200.1h0.8v0.8h-0.8zM58.3,204.2h0.8v0.8h-0.8zM46.0,201.5h0.8v0.8h-0.8zM42.9,203.6h0.8v0.8h-0.8zM44.1,204.0h0.8v0.8h-0.8zM51.1,203.2h0.8v0.8h-0.8zM42.9,208.6h0.8v0.8h-0.8zM46.5,202.6h0.8v0.8h-0.8zM42.7,196.8h0.8v0.8h-0.8zM47.7,195.7h0.8v0.8h-0.8zM55.3,199.6h0.8v0.8h-0.8zM58.9,200.5h0.8v0.8h-0.8zM54.7,205.1h0.8v0.8h-0.8zM50.3,207.4h0.8v0.8h-0.8zM48.1,203.4h0.8v0.8h-0.8zM45.1,205.7h0.8v0.8h-0.8zM51.9,198.9h0.8v0.8h-0.8zM40.6,205.2h0.8v0.8h-0.8zM50.8,200.6h0.8v0.8h-0.8zM41.6,202.2h0.8v0.8h-0.8zM43.3,194.1h0.8v0.8h-0.8zM46.8,208.4h0.8v0.8h-0.8zM40.4,204.6h0.8v0.8h-0.8zM59.7,200.4h0.8v0.8h-0.8zM53.9,199.5h0.8v0.8h-0.8zM44.3,215.0h0.8v0.8h-0.8zM50.6,202.3h0.8v0.8h-0.8zM59.6,200.9h0.8v0.8h-0.8zM47.3,198.4h0.8v0.8h-0.8zM47.3,202.1h0.8v0.8h-0.8zM43.2,201.0h0.8v0.8h-0.8zM42.2,204.3h0.8v0.8h-0.8zM45.4,205.0h0.8v0.8h-0.8zM55.1,200.8h0.8v0.8h-0.8zM50.7,207.3h0.8v0.8h-0.8zM50.5,195.7h0.8v0.8h-0.8zM44.3,204.6h0.8v0.8h-0.8zM44.1,206.9h0.8v0.8h-0.8zM35.2,200.2h0.8v0.8h-0.8zM55.2,201.7h0.8v0.8h-0.8zM38.8,206.4h0.8v0.8h-0.8zM55.1,195.2h0.8v0.8h-0.8zM39.6,201.1h0.8v0.8h-0.8zM40.1,198.9h0.8v0.8h-0.8zM43.5,198.6h0.8v0.8h-0.8zM51.8,209.5h0.8v0.8h-0.8zM43.3,207.8h0.8v0.8h-0.8zM52.4,191.7h0.8v0.8h-0.8zM49.1,201.9h0.8v0.8h-0.8zM47.4,205.7h0.8v0.8h-0.8zM46.2,204.5h0.8v0.8h-0.8zM45.9,202.7h0.8v0.8h-0.8zM46.7,211.7h0.8v0.8h-0.8zM46.6,198.6h0.8v0.8h-0.8zM62.4,202.6h0.8v0.8h-0.8zM46.3,200.5h0.8v0.8h-0.8zM45.6,208.1h0.8v0.8h-0.8zM45.5,200.6h0.8v0.8h-0.8zM53.2,199.2h0.8v0.8h-0.8zM50.7,208.8h0.8v0.8h-0.8zM55.4,204.2h0.8v0.8h-0.8zM52.7,205.5h0.8v0.8h-0.8zM48.7,205.8h0.8v0.8h-0.8zM54.2,198.3h0.8v0.8h-0.8zM41.3,207.1h0.8v0.8h-0.8zM48.5,204.5h0.8v0.8h-0.8zM45.5,205.4h0.8v0.8h-0.8zM57.5,207.7h0.8v0.8h-0.8zM59.8,199.1h0.8v0.8h-0.8zM56.3,196.6h0.8v0.8h-0.8zM55.8,199.8h0.8v0.8h-0.8zM57.0,200.0h0.8v0.8h-0.8zM46.1,200.4h0.8v0.8h-0.8zM56.1,199.3h0.8v0.8h-0.8zM53.4,202.0h0.8v0.8h-0.8zM36.8,209.2h0.8v0.8h-0.8zM46.7,204.4h0.8v0.8h-0.8zM48.9,195.0h0.8v0.8h-0.8zM46.4,202.8h0.8v0.8h-0.8zM52.0,204.4h0.8v0.8h-0.8zM44.0,203.1h0.8v0.8h-0.8zM49.8,194.6h0.8v0.8h-0.8zM58.4,194.5h0.8v0.8h-0.8zM56.6,199.4h0.8v0.8h-0.8zM61.3,201.0h0.8v0.8h-0.8zM45.9,196.6h0.8v0.8h-0.8zM49.6,203.0h0.8v0.8h-0.8zM50.0,196.7h0.8v0.8h-0.8zM42.3,201.6h0.8v0.8h-0.8zM49.0,198.6h0.8v0.8h-0.8zM48.9,205.6h0.8v0.8h-0.8zM47.7,207.7h0.8v0.8h-0.8zM49.9,200.7h0.8v0.8h-0.8zM55.7,201.2h0.8v0.8h-0.8zM45.9,201.0h0.8v0.8h-0.8zM48.6,203.5h0.8v0.8h-0.8zM55.7,200.3h0.8v0.8h-0.8zM42.9,199.3h0.8v0.8h-0.8zM50.5,202.9h0.8v0.8h-0.8zM54.6,197.7h0.8v0.8h-0.8zM41.7,208.2h0.8v0.8h-0.8zM45.7,198.6h0.8v0.8h-0.8zM59.7,201.1h0.8v0.8h-0.8zM49.2,203.0h0.8v0.8h-0.8zM45.2,207.3h0.8v0.8h-0.8zM45.2,201.8h0.8v0.8h-0.8zM45.1,199.2h0.8v0.8h-0.8zM56.9,205.2h0.8v0.8h-0.8zM50.3,193.5h0.8v0.8h-0.8zM45.7,200.8h0.8v0.8h-0.8zM47.8,194.2h0.8v0.8h-0.8zM34.7,206.0h0.8v0.8h-0.8zM54.1,199.2h0.8v0.8h-0.8zM60.7,194.0h0.8v0.8h-0.8zM48.5,201.6h0.8v0.8h-0.8zM44.8,207.9h0.8v0.8h-0.8zM39.0,201.9h0.8v0.8h-0.8zM45.6,201.5h0.8v0.8h-0.8zM54.6,197.7h0.8v0.8h-0.8zM50.8,199.4h0.8v0.8h-0.8zM56.2,199.0h0.8v0.8h-0.8zM47.8,196.1h0.8v0.8h-0.8zM51.8,198.3h0.8v0.8h-0.8zM54.5,201.7h0.8v0.8h-0.8zM53.2,204.6h0.8v0.8h-0.8zM49.5,198.4h0.8v0.8h-0.8zM49.6,202.4h0.8v0.8h-0.8zM42.1,207.1h0.8v0.8h-0.8zM57.7,199.4h0.8v0.8h-0.8zM49.7,203.5h0.8v0.8h-0.8zM54.4,197.7h0.8v0.8h-0.8zM53.2,197.4h0.8v0.8h-0.8zM52.3,202.6h0.8v0.8h-0.8zM41.5,207.5h0.8v0.8h-0.8zM47.5,196.1h0.8v0.8h-0.8zM44.8,201.2h0.8v0.8h-0.8zM43.6,205.8h0.8v0.8h-0.8zM43.7,204.3h0.8v0.8h-0.8zM41.5,204.0h0.8v0.8h-0.8zM60.1,199.1h0.8v0.8h-0.8zM37.7,202.9h0.8v0.8h-0.8zM45.4,197.1h0.8v0.8h-0.8zM54.3,199.7h0.8v0.8h-0.8zM48.1,202.5h0.8v0.8h-0.8zM42.7,200.1h0.8v0.8h-0.8zM27.3,204.5h0.8v0.8h-0.8zM50.8,203.9h0.8v0.8h-0.8zM44.8,196.6h0.8v0.8h-0.8zM46.4,203.1h0.8v0.8h-0.8zM42.4,209.9h0.8v0.8h-0.8zM41.6,205.0h0.8v0.8h-0.8zM43.0,207.9h0.8v0.8h-0.8zM39.5,202.3h0.8v0.8h-0.8zM53.5,195.3h0.8v0.8h-0.8zM45.8,205.3h0.8v0.8h-0.8zM48.2,195.5h0.8v0.8h-0.8zM51.7,199.7h0.8v0.8h-0.8zM53.5,193.5h0.8v0.8h-0.8zM53.6,201.7h0.8v0.8h-0.8zM45.5,201.7h0.8v0.8h-0.8zM49.8,199.0h0.8v0.8h-0.8zM45.3,200.5h0.8v0.8h-0.8zM50.1,204.1h0.8v0.8h-0.8zM38.8,206.2h0.8v0.8h-0.8zM52.3,206.4h0.8v0.8h-0.8zM45.6,208.2h0.8v0.8h-0.8zM46.3,204.9h0.8v0.8h-0.8zM50.1,202.6h0.8v0.8h-0.8zM45.0,199.8h0.8v0.8h-0.8zM59.4,203.4h0.8v0.8h-0.8zM47.5,201.9h0.8v0.8h-0.8zM45.3,198.3h0.8v0.8h-0.8zM42.2,206.3h0.8v0.8h-0.8zM53.8,199.1h0.8v0.8h-0.8zM41.3,200.9h0.8v0.8h-0.8zM45.6,206.0h0.8v0.8h-0.8zM46.8,197.3h0.8v0.8h-0.8zM41.8,206.1h0.8v0.8h-0.8zM52.5,207.3h0.8v0.8h-0.8zM57.4,199.3h0.8v0.8h-0.8zM44.5,204.5h0.8v0.8h-0.8zM40.6,202.7h0.8v0.8h-0.8zM55.3,201.8h0.8v0.8h-0.8zM56.1,205.1h0.8v0.8h-0.8zM46.9,205.9h0.8v0.8h-0.8zM49.2,203.1h0.8v0.8h-0.8zM50.5,203.4h0.8v0.8h-0.8zM38.1,201.1h0.8v0.8h-0.8zM49.6,203.6h0.8v0.8h-0.8zM45.3,203.0h0.8v0.8h-0.8zM41.1,208.8h0.8v0.8h-0.8zM53.2,206.0h0.8v0.8h-0.8zM45.8,202.9h0.8v0.8h-0.8zM50.6,206.6h0.8v0.8h-0.8zM52.3,202.1h0.8v0.8h-0.8zM37.2,203.4h0.8v0.8h-0.8zM39.2,205.2h0.8v0.8h-0.8zM53.7,200.3h0.8v0.8h-0.8zM45.5,211.2h0.8v0.8h-0.8zM43.5,209.5h0.8v0.8h-0.8zM55.8,200.2h0.8v0.8h-0.8zM55.1,195.3h0.8v0.8h-0.8zM44.6,202.6h0.8v0.8h-0.8zM50.4,200.7h0.8v0.8h-0.8zM58.2,196.8h0.8v0.8h-0.8zM45.3,198.7h0.8v0.8h-0.8zM52.3,203.7h0.8v0.8h-0.8zM42.1,199.9h0.8v0.8h-0.8zM41.5,209.5h0.8v0.8h-0.8zM53.5,201.2h0.8v0.8h-0.8zM53.6,201.9h0.8v0.8h-0.8zM49.0,195.7h0.8v0.8h-0.8zM52.4,203.3h0.8v0.8h-0.8zM56.6,202.6h0.8v0.8h-0.8zM44.6,204.7h0.8v0.8h-0.8zM41.7,210.4h0.8v0.8h-0.8zM41.0,207.9h0.8v0.8h-0.8zM42.5,201.4h0.8v0.8h-0.8zM42.5,203.3h0.8v0.8h-0.8zM52.2,205.0h0.8v0.8h-0.8zM47.7,205.8h0.8v0.8h-0.8zM56.4,206.9h0.8v0.8h-0.8zM45.2,204.7h0.8v0.8h-0.8zM52.8,201.0h0.8v0.8h-0.8zM51.3,198.5h0.8v0.8h-0.8zM45.3,201.0h0.8v0.8h-0.8zM43.3,200.8h0.8v0.8h-0.8zM46.1,198.4h0.8v0.8h-0.8zM45.7,205.5h0.8v0.8h-0.8zM37.4,202.6h0.8v0.8h-0.8zM44.4,199.7h0.8v0.8h-0.8zM44.8,210.9h0.8v0.8h-0.8zM49.7,199.9h0.8v0.8h-0.8zM41.8,198.8h0.8v0.8h-0.8zM38.2,197.4h0.8v0.8h-0.8zM51.0,199.1h0.8v0.8h-0.8zM53.8,199.9h0.8v0.8h-0.8zM38.7,213.4h0.8v0.8h-0.8zM52.6,203.9h0.8v0.8h-0.8zM44.2,201.7h0.8v0.8h-0.8zM49.6,208.6h0.8v0.8h-0.8zM39.3,201.7h0.8v0.8h-0.8zM48.8,194.4h0.8v0.8h-0.8zM55.8,194.7h0.8v0.8h-0.8zM55.3,198.8h0.8v0.8h-0.8zM44.7,199.3h0.8v0.8h-0.8zM56.8,197.7h0.8v0.8h-0.8zM41.0,207.6h0.8v0.8h-0.8zM48.2,204.3h0.8v0.8h-0.8zM46.4,204.4h0.8v0.8h-0.8zM51.1,201.1h0.8v0.8h-0.8zM39.1,207.8h0.8v0.8h-0.8zM57.3,200.3h0.8v0.8h-0.8zM55.0,202.5h0.8v0.8h-0.8zM47.9,206.4h0.8v0.8h-0.8zM45.5,199.5h0.8v0.8h-0.8zM42.1,208.7h0.8v0.8h-0.8zM53.5,202.5h0.8v0.8h-0.8zM42.5,197.6h0.8v0.8h-0.8zM52.9,200.0h0.8v0.8h-0.8zM43.8,201.7h0.8v0.8h-0.8zM42.4,197.5h0.8v0.8h-0.8zM53.1,203.0h0.8v0.8h-0.8zM53.2,198.9h0.8v0.8h-0.8zM38.9,200.7h0.8v0.8h-0.8zM48.8,208.7h0.8v0.8h-0.8zM54.0,200.0h0.8v0.8h-0.8zM52.3,203.7h0.8v0.8h-0.8zM49.0,202.8h0.8v0.8h-0.8zM48.9,199.8h0.8v0.8h-0.8zM40.7,203.1h0.8v0.8h-0.8zM53.2,194.2h0.8v0.8h-0.8zM45.1,201.9h0.8v0.8h-0.8zM48.0,200.6h0.8v0.8h-0.8zM52.6,199.0h0.8v0.8h-0.8zM49.3,204.6h0.8v0.8h-0.8zM41.2,209.3h0.8v0.8h-0.8zM52.8,195.3h0.8v0.8h-0.8zM46.8,200.0h0.8v0.8h-0.8zM47.2,205.7h0.8v0.8h-0.8zM38.1,209.6h0.8v0.8h-0.8zM50.9,201.1h0.8v0.8h-0.8zM61.1,195.2h0.8v0.8h-0.8zM39.8,207.1h0.8v0.8h-0.8zM48.4,199.8h0.8v0.8h-0.8zM32.9,201.1h0.8v0.8h-0.8zM56.2,193.2h0.8v0.8h-0.8zM57.8,201.5h0.8v0.8h-0.8zM35.3,208.2h0.8v0.8h-0.8zM53.7,204.3h0.8v0.8h-0.8zM58.1,203.1h0.8v0.8h-0.8zM47.8,201.5h0.8v0.8h-0.8zM47.9,204.4h0.8v0.8h-0.8zM41.3,201.0h0.8v0.8h-0.8zM63.5,199.7h0.8v0.8h-0.8zM54.5,198.8h0.8v0.8h-0.8zM42.6,202.9h0.8v0.8h-0.8zM42.7,202.1h0.8v0.8h-0.8zM39.7,208.1h0.8v0.8h-0.8zM51.4,204.0h0.8v0.8h-0.8zM47.8,199.7h0.8v0.8h-0.8zM61.9,200.3h0.8v0.8h-0.8zM53.0,203.7h0.8v0.8h-0.8zM47.5,205.3h0.8v0.8h-0.8zM45.2,207.4h0.8v0.8h-0.8zM55.1,202.7h0.8v0.8h-0.8zM50.9,201.7h0.8v0.8h-0.8zM50.7,204.0h0.8v0.8h-0.8zM46.6,205.6h0.8v0.8h-0.8zM51.4,196.1h0.8v0.8h-0.8zM38.4,207.3h0.8v0.8h-0.8zM45.2,200.4h0.8v0.8h-0.8zM39.4,201.6h0.8v0.8h-0.8zM37.9,205.0h0.8v0.8h-0.8zM36.7,200.3h0.8v0.8h-0.8zM49.6,207.5h0.8v0.8h-0.8zM55.6,198.6h0.8v0.8h-0.8zM50.3,200.5h0.8v0.8h-0.8zM46.6,199.9h0.8v0.8h-0.8zM47.0,198.7h0.8v0.8h-0.8zM43.7,203.5h0.8v0.8h-0.8zM50.6,209.1h0.8v0.8h-0.8zM41.6,200.7h0.8v0.8h-0.8zM53.0,202.5h0.8v0.8h-0.8zM52.3,200.1h0.8v0.8h-0.8zM38.7,204.7h0.8v0.8h-0.8zM40.5,205.1h0.8v0.8h-0.8zM58.4,196.9h0.8v0.8h-0.8zM50.4,205.5h0.8v0.8h-0.8zM41.3,207.9h0.8v0.8h-0.8zM45.3,200.8h0.8v0.8h-0.8zM44.8,199.8h0.8v0.8h-0.8zM53.6,200.4h0.8v0.8h-0.8zM46.1,204.9h0.8v0.8h-0.8zM35.6,196.7h0.8v0.8h-0.8zM55.4,197.1h0.8v0.8h-0.8zM51.6,197.4h0.8v0.8h-0.8zM35.8,203.0h0.8v0.8h-0.8zM54.3,201.2h0.8v0.8h-0.8zM45.3,206.0h0.8v0.8h-0.8zM46.7,203.5h0.8v0.8h-0.8zM38.7,197.3h0.8v0.8h-0.8zM49.6,204.2h0.8v0.8h-0.8zM44.9,209.6h0.8v0.8h-0.8zM52.2,207.2h0.8v0.8h-0.8zM53.8,204.6h0.8v0.8h-0.8zM44.8,198.0h0.8v0.8h-0.8zM63.3,201.1h0.8v0.8h-0.8zM51.2,197.4h0.8v0.8h-0.8zM52.3,196.6h0.8v0.8h-0.8zM52.6,203.9h0.8v0.8h-0.8zM50.0,197.6h0.8v0.8h-0.8zM52.2,201.3h0.8v0.8h-0.8zM53.2,205.0h0.8v0.8h-0.8zM43.1,201.0h0.8v0.8h-0.8zM37.5,212.3h0.8v0.8h-0.8zM45.0,208.4h0.8v0.8h-0.8zM52.0,205.2h0.8v0.8h-0.8zM50.3,203.2h0.8v0.8h-0.8zM47.4,204.2h0.8v0.8h-0.8zM43.2,208.1h0.8v0.8h-0.8zM37.3,204.6h0.8v0.8h-0.8zM45.9,203.4h0.8v0.8h-0.8zM46.2,199.2h0.8v0.8h-0.8zM44.9,193.1h0.8v0.8h-0.8zM43.7,203.7h0.8v0.8h-0.8zM45.1,207.1h0.8v0.8h-0.8zM47.8,204.1h0.8v0.8h-0.8zM42.4,208.0h0.8v0.8h-0.8zM50.5,195.3h0.8v0.8h-0.8zM55.0,194.9h0.8v0.8h-0.8zM42.0,207.8h0.8v0.8h-0.8zM59.5,200.0h0.8v0.8h-0.8zM46.1,200.2h0.8v0.8h-0.8zM43.8,204.6h0.8v0.8h-0.8zM48.8,198.1h0.8v0.8h-0.8zM48.1,193.7h0.8v0.8h-0.8zM48.1,198.6h0.8v0.8h-0.8zM43.0,212.2h0.8v0.8h-0.8zM51.2,199.7h0.8v0.8h-0.8zM43.2,209.5h0.8v0.8h-0.8zM47.5,199.4h0.8v0.8h-0.8zM34.8,211.0h0.8v0.8h-0.8zM53.1,202.0h0.8v0.8h-0.8zM39.0,198.7h0.8v0.8h-0.8zM54.4,198.3h0.8v0.8h-0.8zM49.0,191.9h0.8v0.8h-0.8zM47.1,205.2h0.8v0.8h-0.8zM50.1,208.3h0.8v0.8h-0.8zM54.6,203.4h0.8v0.8h-0.8zM51.7,199.7h0.8v0.8h-0.8zM42.0,201.3h0.8v0.8h-0.8zM55.2,198.5h0.8v0.8h-0.8zM35.4,208.0h0.8v0.8h-0.8zM47.7,200.3h0.8v0.8h-0.8zM49.2,198.2h0.8v0.8h-0.8zM63.1,194.3h0.8v0.8h-0.8zM42.1,204.9h0.8v0.8h-0.8zM50.2,204.6h0.8v0.8h-0.8zM50.2,203.7h0.8v0.8h-0.8zM47.7,201.2h0.8v0.8h-0.8zM40.6,202.3h0.8v0.8h-0.8zM45.9,198.2h0.8v0.8h-0.8zM52.4,199.2h0.8v0.8h-0.8zM56.1,201.9h0.8v0.8h-0.8zM50.2,213.0h0.8v0.8h-0.8zM55.7,196.5h0.8v0.8h-0.8zM49.8,199.1h0.8v0.8h-0.8zM42.5,204.9h0.8v0.8h-0.8zM46.1,206.2h0.8v0.8h-0.8zM39.8,206.4h0.8v0.8h-0.8zM56.2,199.8h0.8v0.8h-0.8zM62.1,204.0h0.8v0.8h-0.8zM40.1,203.9h0.8v0.8h-0.8zM46.5,208.5h0.8v0.8h-0.8zM42.2,196.5h0.8v0.8h-0.8zM43.6,202.6h0.8v0.8h-0.8zM46.7,202.0h0.8v0.8h-0.8zM47.1,199.4h0.8v0.8h-0.8zM47.1,200.7h0.8v0.8h-0.8zM44.9,202.3h0.8v0.8h-0.8zM53.3,200.9h0.8v0.8h-0.8zM50.8,198.1h0.8v0.8h-0.8zM37.4,205.7h0.8v0.8h-0.8zM53.0,200.0h0.8v0.8h-0.8zM42.5,198.2h0.8v0.8h-0.8zM48.7,198.6h0.8v0.8h-0.8zM38.2,207.4h0.8v0.8h-0.8zM49.9,206.1h0.8v0.8h-0.8zM38.5,200.6h0.8v0.8h-0.8zM50.7,207.0h0.8v0.8h-0.8zM49.9,203.8h0.8v0.8h-0.8zM39.9,206.4h0.8v0.8h-0.8zM36.4,199.8h0.8v0.8h-0.8zM53.7,204.2h0.8v0.8h-0.8zM43.8,204.4h0.8v0.8h-0.8zM51.0,200.1h0.8v0.8h-0.8zM48.7,203.2h0.8v0.8h-0.8zM41.3,200.6h0.8v0.8h-0.8zM53.7,208.7h0.8v0.8h-0.8zM45.0,201.6h0.8v0.8h-0.8zM58.6,195.3h0.8v0.8h-0.8zM46.1,210.3h0.8v0.8h-0.8zM53.2,202.9h0.8v0.8h-0.8zM36.7,211.6h0.8v0.8h-0.8zM47.8,206.1h0.8v0.8h-0.8zM53.8,206.9h0.8v0.8h-0.8zM55.6,206.2h0.8v0.8h-0.8zM45.7,207.4h0.8v0.8h-0.8zM51.1,199.0h0.8v0.8h-0.8zM39.5,204.8h0.8v0.8h-0.8zM42.2,202.8h0.8v0.8h-0.8zM44.2,201.2h0.8v0.8h-0.8zM49.0,202.4h0.8v0.8h-0.8zM41.0,202.1h0.8v0.8h-0.8zM48.7,199.9h0.8v0.8h-0.8zM44.0,200.2h0.8v0.8h-0.8zM36.6,205.8h0.8v0.8h-0.8zM41.7,204.4h0.8v0.8h-0.8zM45.7,201.6h0.8v0.8h-0.8zM52.4,197.2h0.8v0.8h-0.8zM55.6,200.5h0.8v0.8h-0.8zM63.1,192.6h0.8v0.8h-0.8zM44.6,205.1h0.8v0.8h-0.8zM52.6,199.3h0.8v0.8h-0.8zM53.1,200.6h0.8v0.8h-0.8zM39.8,206.8h0.8v0.8h-0.8zM53.9,201.4h0.8v0.8h-0.8zM46.4,199.5h0.8v0.8h-0.8zM54.6,205.1h0.8v0.8h-0.8zM40.5,207.7h0.8v0.8h-0.8zM37.5,207.3h0.8v0.8h-0.8zM31.5,208.2h0.8v0.8h-0.8zM50.2,195.7h0.8v0.8h-0.8zM40.1,205.9h0.8v0.8h-0.8zM47.0,203.8h0.8v0.8h-0.8zM55.1,194.8h0.8v0.8h-0.8zM47.0,195.1h0.8v0.8h-0.8zM28.3,206.4h0.8v0.8h-0.8zM32.1,210.6h0.8v0.8h-0.8zM54.3,201.7h0.8v0.8h-0.8zM37.1,203.7h0.8v0.8h-0.8zM37.4,205.8h0.8v0.8h-0.8zM43.4,208.4h0.8v0.8h-0.8zM49.0,196.9h0.8v0.8h-0.8zM57.5,199.3h0.8v0.8h-0.8zM53.6,200.1h0.8v0.8h-0.8zM57.7,202.8h0.8v0.8h-0.8zM55.1,204.9h0.8v0.8h-0.8zM52.5,201.7h0.8v0.8h-0.8zM40.8,197.0h0.8v0.8h-0.8zM56.8,201.1h0.8v0.8h-0.8zM42.7,207.8h0.8v0.8h-0.8zM49.5,202.1h0.8v0.8h-0.8zM61.1,201.0h0.8v0.8h-0.8zM40.1,205.9h0.8v0.8h-0.8zM56.2,203.5h0.8v0.8h-0.8zM51.2,199.6h0.8v0.8h-0.8zM48.1,194.9h0.8v0.8h-0.8zM56.2,198.8h0.8v0.8h-0.8zM44.0,201.2h0.8v0.8h-0.8zM48.3,199.0h0.8v0.8h-0.8zM40.9,201.4h0.8v0.8h-0.8zM59.0,197.5h0.8v0.8h-0.8zM52.0,202.1h0.8v0.8h-0.8zM45.6,206.4h0.8v0.8h-0.8zM46.4,200.1h0.8v0.8h-0.8zM41.6,203.4h0.8v0.8h-0.8zM47.2,207.9h0.8v0.8h-0.8zM34.3,212.3h0.8v0.8h-0.8zM59.5,203.7h0.8v0.8h-0.8zM42.8,201.2h0.8v0.8h-0.8zM57.1,201.3h0.8v0.8h-0.8zM49.1,198.5h0.8v0.8h-0.8zM45.0,198.9h0.8v0.8h-0.8zM60.1,201.6h0.8v0.8h-0.8zM47.2,206.8h0.8v0.8h-0.8zM46.6,195.0h0.8v0.8h-0.8zM50.9,198.2h0.8v0.8h-0.8zM49.8,199.8h0.8v0.8h-0.8zM41.8,203.6h0.8v0.8h-0.8zM53.3,195.6h0.8v0.8h-0.8zM40.3,199.5h0.8v0.8h-0.8zM45.8,206.7h0.8v0.8h-0.8zM53.7,202.2h0.8v0.8h-0.8zM53.6,206.1h0.8v0.8h-0.8zM59.9,203.8h0.8v0.8h-0.8zM42.2,202.2h0.8v0.8h-0.8zM54.3,202.7h0.8v0.8h-0.8zM45.0,202.7h0.8v0.8h-0.8zM53.9,199.4h0.8v0.8h-0.8zM44.2,205.2h0.8v0.8h-0.8zM45.7,205.5h0.8v0.8h-0.8zM49.4,200.6h0.8v0.8h-0.8zM44.3,207.8h0.8v0.8h-0.8zM43.2,204.8h0.8v0.8h-0.8zM46.3,203.2h0.8v0.8h-0.8zM47.4,206.5h0.8v0.8h-0.8zM47.7,198.4h0.8v0.8h-0.8zM41.7,207.8h0.8v0.8h-0.8zM48.8,206.9h0.8v0.8h-0.8zM53.0,205.4h0.8v0.8h-0.8zM39.3,204.5h0.8v0.8h-0.8zM54.4,194.9h0.8v0.8h-0.8zM52.8,200.2h0.8v0.8h-0.8zM54.3,198.6h0.8v0.8h-0.8zM45.0,206.8h0.8v0.8h-0.8zM60.2,192.9h0.8v0.8h-0.8zM49.1,198.8h0.8v0.8h-0.8zM52.0,202.5h0.8v0.8h-0.8zM42.1,199.4h0.8v0.8h-0.8zM48.9,202.1h0.8v0.8h-0.8zM53.9,199.9h0.8v0.8h-0.8zM55.4,200.5h0.8v0.8h-0.8zM59.0,202.0h0.8v0.8h-0.8zM39.8,204.7h0.8v0.8h-0.8zM50.9,200.3h0.8v0.8h-0.8zM53.1,207.0h0.8v0.8h-0.8zM42.4,202.0h0.8v0.8h-0.8zM44.6,208.0h0.8v0.8h-0.8zM61.3,193.8h0.8v0.8h-0.8zM61.3,191.7h0.8v0.8h-0.8zM49.6,202.4h0.8v0.8h-0.8zM49.7,199.1h0.8v0.8h-0.8zM41.4,204.4h0.8v0.8h-0.8zM54.7,199.0h0.8v0.8h-0.8zM51.8,202.8h0.8v0.8h-0.8zM56.2,195.0h0.8v0.8h-0.8zM61.1,204.7h0.8v0.8h-0.8zM43.1,208.8h0.8v0.8h-0.8zM36.2,204.1h0.8v0.8h-0.8zM46.9,202.9h0.8v0.8h-0.8zM36.3,204.4h0.8v0.8h-0.8zM40.0,209.4h0.8v0.8h-0.8zM43.4,205.4h0.8v0.8h-0.8zM46.4,205.2h0.8v0.8h-0.8zM32.9,208.4h0.8v0.8h-0.8zM38.4,202.7h0.8v0.8h-0.8zM52.1,204.1h0.8v0.8h-0.8zM42.5,202.7h0.8v0.8h-0.8zM60.8,197.6h0.8v0.8h-0.8zM56.0,203.3h0.8v0.8h-0.8zM53.3,199.8h0.8v0.8h-0.8zM48.9,205.4h0.8v0.8h-0.8zM30.9,206.4h0.8v0.8h-0.8zM52.0,203.0h0.8v0.8h-0.8zM51.7,199.0h0.8v0.8h-0.8zM41.7,199.5h0.8v0.8h-0.8zM49.8,201.6h0.8v0.8h-0.8zM46.2,194.4h0.8v0.8h-0.8zM44.6,199.6h0.8v0.8h-0.8zM55.4,202.2h0.8v0.8h-0.8zM53.3,202.4h0.8v0.8h-0.8zM55.9,200.2h0.8v0.8h-0.8zM43.7,204.7h0.8v0.8h-0.8zM49.3,203.3h0.8v0.8h-0.8zM51.7,201.2h0.8v0.8h-0.8zM49.9,201.5h0.8v0.8h-0.8zM45.5,199.2h0.8v0.8h-0.8zM43.4,202.5h0.8v0.8h-0.8zM59.1,197.0h0.8v0.8h-0.8zM43.8,206.4h0.8v0.8h-0.8zM51.1,200.0h0.8v0.8h-0.8zM53.0,196.5h0.8v0.8h-0.8zM40.8,203.3h0.8v0.8h-0.8zM45.8,202.3h0.8v0.8h-0.8zM49.7,205.3h0.8v0.8h-0.8zM49.4,203.4h0.8v0.8h-0.8zM45.5,199.4h0.8v0.8h-0.8zM46.7,199.0h0.8v0.8h-0.8zM52.3,199.6h0.8v0.8h-0.8zM41.9,204.5h0.8v0.8h-0.8zM48.5,200.2h0.8v0.8h-0.8zM41.5,203.8h0.8v0.8h-0.8zM44.5,201.8h0.8v0.8h-0.8zM30.2,206.5h0.8v0.8h-0.8zM63.6,202.3h0.8v0.8h-0.8zM54.6,198.8h0.8v0.8h-0.8zM55.4,201.6h0.8v0.8h-0.8zM48.7,202.1h0.8v0.8h-0.8zM46.2,196.3h0.8v0.8h-0.8zM55.8,202.7h0.8v0.8h-0.8zM50.6,202.8h0.8v0.8h-0.8zM43.1,203.9h0.8v0.8h-0.8zM43.0,200.4h0.8v0.8h-0.8zM53.2,208.9h0.8v0.8h-0.8zM59.5,198.0h0.8v0.8h-0.8z" fill="#000" opacity="0.85"/>
<path d="M52.1,202.4h0.6v0.6h-0.6zM56.0,202.4h0.6v0.6h-0.6zM54.8,202.7h0.6v0.6h-0.6zM39.8,205.3h0.6v0.6h-0.6zM58.1,199.3h0.6v0.6h-0.6zM55.9,196.1h0.6v0.6h-0.6zM47.8,200.4h0.6v0.6h-0.6zM50.1,201.9h0.6v0.6h-0.6zM38.8,203.8h0.6v0.6h-0.6zM45.9,206.2h0.6v0.6h-0.6zM53.3,197.5h0.6v0.6h-0.6zM53.9,197.1h0.6v0.6h-0.6zM50.4,198.5h0.6v0.6h-0.6zM40.3,208.1h0.6v0.6h-0.6zM42.7,202.3h0.6v0.6h-0.6zM59.4,200.4h0.6v0.6h-0.6zM46.2,206.5h0.6v0.6h-0.6zM50.3,202.7h0.6v0.6h-0.6zM44.5,207.0h0.6v0.6h-0.6zM54.0,203.3h0.6v0.6h-0.6zM56.2,197.4h0.6v0.6h-0.6zM45.5,200.7h0.6v0.6h-0.6zM41.0,201.8h0.6v0.6h-0.6zM45.5,204.0h0.6v0.6h-0.6zM39.9,206.9h0.6v0.6h-0.6zM45.4,201.9h0.6v0.6h-0.6zM55.2,199.2h0.6v0.6h-0.6zM45.4,203.1h0.6v0.6h-0.6zM51.9,197.3h0.6v0.6h-0.6zM57.1,195.0h0.6v0.6h-0.6zM54.8,202.1h0.6v0.6h-0.6zM40.4,207.5h0.6v0.6h-0.6zM46.7,203.4h0.6v0.6h-0.6zM38.3,202.7h0.6v0.6h-0.6zM44.0,207.3h0.6v0.6h-0.6zM43.8,205.9h0.6v0.6h-0.6zM58.6,201.3h0.6v0.6h-0.6zM45.7,202.1h0.6v0.6h-0.6zM50.3,203.4h0.6v0.6h-0.6zM42.1,206.5h0.6v0.6h-0.6zM55.8,201.8h0.6v0.6h-0.6zM41.2,208.4h0.6v0.6h-0.6zM40.7,204.0h0.6v0.6h-0.6zM52.3,203.7h0.6v0.6h-0.6zM47.1,205.8h0.6v0.6h-0.6z" fill="#fff" opacity="0.5"/>
<path d="M41.8,201.8h0.8v0.8h-0.8zM55.1,197.3h0.8v0.8h-0.8zM41.7,204.7h0.8v0.8h-0.8zM36.4,202.1h0.8v0.8h-0.8zM41.2,200.6h0.8v0.8h-0.8zM42.9,200.8h0.8v0.8h-0.8zM30.0,202.9h0.8v0.8h-0.8zM32.3,198.3h0.8v0.8h-0.8zM39.1,202.6h0.8v0.8h-0.8zM42.0,198.2h0.8v0.8h-0.8zM40.3,206.1h0.8v0.8h-0.8zM40.9,198.0h0.8v0.8h-0.8zM44.9,197.6h0.8v0.8h-0.8zM44.3,199.6h0.8v0.8h-0.8zM35.7,200.0h0.8v0.8h-0.8zM44.5,212.5h0.8v0.8h-0.8zM40.6,210.6h0.8v0.8h-0.8zM44.6,199.0h0.8v0.8h-0.8zM47.5,205.9h0.8v0.8h-0.8zM37.7,202.3h0.8v0.8h-0.8zM45.3,202.2h0.8v0.8h-0.8zM49.6,200.1h0.8v0.8h-0.8zM35.2,206.0h0.8v0.8h-0.8zM36.8,209.0h0.8v0.8h-0.8zM42.0,200.3h0.8v0.8h-0.8zM38.3,208.8h0.8v0.8h-0.8zM41.0,208.8h0.8v0.8h-0.8zM35.4,204.8h0.8v0.8h-0.8zM35.6,201.0h0.8v0.8h-0.8zM54.7,203.2h0.8v0.8h-0.8zM39.1,207.9h0.8v0.8h-0.8zM35.3,212.3h0.8v0.8h-0.8zM43.7,199.7h0.8v0.8h-0.8zM39.1,205.2h0.8v0.8h-0.8zM41.1,201.1h0.8v0.8h-0.8zM36.0,204.6h0.8v0.8h-0.8zM39.9,207.4h0.8v0.8h-0.8zM40.9,204.2h0.8v0.8h-0.8zM32.4,206.0h0.8v0.8h-0.8zM37.4,202.6h0.8v0.8h-0.8zM38.9,202.7h0.8v0.8h-0.8zM35.8,210.5h0.8v0.8h-0.8zM42.7,199.5h0.8v0.8h-0.8zM40.7,198.6h0.8v0.8h-0.8zM34.5,205.8h0.8v0.8h-0.8zM46.2,199.5h0.8v0.8h-0.8zM34.4,208.0h0.8v0.8h-0.8zM36.3,202.3h0.8v0.8h-0.8zM37.9,196.3h0.8v0.8h-0.8zM29.7,202.5h0.8v0.8h-0.8zM44.8,201.3h0.8v0.8h-0.8zM36.3,202.5h0.8v0.8h-0.8zM45.5,206.5h0.8v0.8h-0.8zM37.8,206.2h0.8v0.8h-0.8zM51.2,200.2h0.8v0.8h-0.8zM39.6,205.6h0.8v0.8h-0.8zM42.1,205.7h0.8v0.8h-0.8zM40.7,200.9h0.8v0.8h-0.8zM40.6,205.2h0.8v0.8h-0.8zM37.6,205.5h0.8v0.8h-0.8zM39.2,210.2h0.8v0.8h-0.8zM44.9,196.7h0.8v0.8h-0.8zM44.2,202.2h0.8v0.8h-0.8zM40.2,202.4h0.8v0.8h-0.8zM43.5,206.6h0.8v0.8h-0.8zM37.4,210.2h0.8v0.8h-0.8zM36.9,200.2h0.8v0.8h-0.8zM41.5,206.0h0.8v0.8h-0.8zM40.6,204.8h0.8v0.8h-0.8zM37.8,202.4h0.8v0.8h-0.8z" fill="#000" opacity="0.85"/>
<line x1="132.20" y1="87.50" x2="277.80" y2="87.50" stroke="#d6d6d6" stroke-width="0.9"/>
<line x1="132.20" y1="77.50" x2="277.80" y2="77.50" stroke="#d6d6d6" stroke-width="0.9"/>
<line x1="132.20" y1="67.50" x2="277.80" y2="67.50" stroke="#d6d6d6" stroke-width="0.9"/>
<line x1="132.20" y1="57.50" x2="277.80" y2="57.50" stroke="#d6d6d6" stroke-width="0.9"/>
<line x1="132.20" y1="47.50" x2="277.80" y2="47.50" stroke="#d6d6d6" stroke-width="0.9"/>
<line x1="132.20" y1="37.50" x2="277.80" y2="37.50" stroke="#d6d6d6" stroke-width="0.9"/>
<line x1="132.20" y1="28.50" x2="277.80" y2="28.50" stroke="#d6d6d6" stroke-width="0.9"/>
<line x1="132.20" y1="18.50" x2="277.80" y2="18.50" stroke="#d6d6d6" stroke-width="0.9"/>
<line x1="277.50" y1="18.20" x2="277.50" y2="97.20" stroke="#b0b0b0" stroke-width="0.9"/>
<line x1="132.50" y1="18.20" x2="132.50" y2="97.20" stroke="#9a9a9a" stroke-width="0.9"/>
<line x1="132.20" y1="97.50" x2="277.80" y2="97.50" stroke="#666" stroke-width="0.9"/>
<line x1="132.50" y1="97.20" x2="132.50" y2="98.70" stroke="#888" stroke-width="0.6"/>
<line x1="153.50" y1="97.20" x2="153.50" y2="98.70" stroke="#888" stroke-width="0.6"/>
<line x1="173.50" y1="97.20" x2="173.50" y2="98.70" stroke="#888" stroke-width="0.6"/>
<line x1="194.50" y1="97.20" x2="194.50" y2="98.70" stroke="#888" stroke-width="0.6"/>
<line x1="215.50" y1="97.20" x2="215.50" y2="98.70" stroke="#888" stroke-width="0.6"/>
<line x1="236.50" y1="97.20" x2="236.50" y2="98.70" stroke="#888" stroke-width="0.6"/>
<line x1="257.50" y1="97.20" x2="257.50" y2="98.70" stroke="#888" stroke-width="0.6"/>
<line x1="277.50" y1="97.20" x2="277.50" y2="98.70" stroke="#888" stroke-width="0.6"/>
<text transform="translate(127.60 99.42) scale(0.8475 1)" font-size="5.90" text-anchor="end" font-weight="bold" fill="#111">0</text>
<text transform="translate(127.60 89.55) scale(0.8475 1)" font-size="5.90" text-anchor="end" font-weight="bold" fill="#111">50</text>
<text transform="translate(127.60 79.67) scale(0.8475 1)" font-size="5.90" text-anchor="end" font-weight="bold" fill="#111">100</text>
<text transform="translate(127.60 69.80) scale(0.8475 1)" font-size="5.90" text-anchor="end" font-weight="bold" fill="#111">150</text>
<text transform="translate(127.60 59.92) scale(0.8475 1)" font-size="5.90" text-anchor="end" font-weight="bold" fill="#111">200</text>
<text transform="translate(127.60 50.05) scale(0.8475 1)" font-size="5.90" text-anchor="end" font-weight="bold" fill="#111">250</text>
<text transform="translate(127.60 40.17) scale(0.8475 1)" font-size="5.90" text-anchor="end" font-weight="bold" fill="#111">300</text>
<text transform="translate(127.60 30.30) scale(0.8475 1)" font-size="5.90" text-anchor="end" font-weight="bold" fill="#111">350</text>
<text transform="translate(127.60 20.42) scale(0.8475 1)" font-size="5.90" text-anchor="end" font-weight="bold" fill="#111">400</text>
<rect x="221.50" y="35.98" width="9.20" height="61.23" fill="#000"/>
<line x1="226.50" y1="30.50" x2="226.50" y2="35.98" stroke="#222" stroke-width="0.6"/>
<line x1="225.10" y1="30.50" x2="227.10" y2="30.50" stroke="#222" stroke-width="0.6"/>
<rect x="262.90" y="33.80" width="9.20" height="63.40" fill="#000"/>
<line x1="267.50" y1="25.00" x2="267.50" y2="33.80" stroke="#222" stroke-width="0.6"/>
<line x1="266.50" y1="25.50" x2="268.50" y2="25.50" stroke="#222" stroke-width="0.6"/>
<text transform="translate(109.00 9.30)" font-size="11.40" text-anchor="start" font-weight="bold" fill="#000">B</text>
<text transform="translate(143.90 13.50) scale(0.8333 1)" font-size="9.72" text-anchor="start" font-weight="bold" fill="#000" textLength="131.04" lengthAdjust="spacingAndGlyphs">Interferon Gamma Secretion</text>
<text transform="translate(112.20 57.20) rotate(-90) scale(1.0526 1)" font-size="4.56" text-anchor="middle" font-weight="bold" fill="#333" textLength="28.97" lengthAdjust="spacingAndGlyphs">IFN<tspan font-size="4.2">&#947;</tspan> (pg/mL)</text>
<text transform="translate(143.00 107.09) scale(0.8696 1)" font-size="6.09" text-anchor="middle" fill="#111">Donor</text>
<text transform="translate(143.00 113.79) scale(0.8696 1)" font-size="6.09" text-anchor="middle" fill="#111">LCL</text>
<text transform="translate(163.40 106.79) scale(0.8696 1)" font-size="6.09" text-anchor="middle" fill="#111">Patient</text>
<text transform="translate(163.40 114.59) scale(0.8696 1)" font-size="6.09" text-anchor="middle" fill="#111">LCL</text>
<text transform="translate(184.30 107.39) scale(0.8696 1)" font-size="6.09" text-anchor="middle" fill="#111">CTL</text>
<text transform="translate(184.30 114.99) scale(0.8696 1)" font-size="6.09" text-anchor="middle" fill="#111">alone</text>
<text transform="translate(205.20 107.39) scale(0.8696 1)" font-size="6.09" text-anchor="middle" fill="#111">CTL +</text>
<text transform="translate(205.20 114.19) scale(0.8696 1)" font-size="6.09" text-anchor="middle" fill="#111">Donor</text>
<text transform="translate(205.20 120.99) scale(0.8696 1)" font-size="6.09" text-anchor="middle" fill="#111">LCL</text>
<text transform="translate(226.20 107.39) scale(0.8696 1)" font-size="6.09" text-anchor="middle" fill="#111">CTL +</text>
<text transform="translate(226.20 114.19) scale(0.8696 1)" font-size="6.09" text-anchor="middle" fill="#111">Patient</text>
<text transform="translate(218.00 120.99) scale(0.8696 1)" font-size="6.09" text-anchor="start" fill="#111">LCL</text>
<text transform="translate(246.50 107.39) scale(0.8696 1)" font-size="6.09" text-anchor="middle" fill="#111">CTL +</text>
<text transform="translate(246.50 114.19) scale(0.8696 1)" font-size="6.09" text-anchor="middle" fill="#111">Patient</text>
<text transform="translate(238.30 120.99) scale(0.8696 1)" font-size="6.09" text-anchor="start" fill="#111">LCL +</text>
<text transform="translate(245.50 127.78) scale(0.8696 1)" font-size="6.09" text-anchor="middle" fill="#111">W6/32</text>
<text transform="translate(267.60 107.39) scale(0.8696 1)" font-size="6.09" text-anchor="middle" fill="#111">CTL +</text>
<text transform="translate(267.60 114.99) scale(0.8696 1)" font-size="6.09" text-anchor="middle" fill="#111">Patient</text>
<text transform="translate(259.90 122.19) scale(0.8696 1)" font-size="6.09" text-anchor="start" fill="#111">LCL +</text>
<text transform="translate(271.20 127.99) scale(0.8696 1)" font-size="6.09" text-anchor="middle" fill="#111" textLength="29.90" lengthAdjust="spacingAndGlyphs">Control Ab</text>
<line x1="143.40" y1="235.50" x2="307.80" y2="235.50" stroke="#d6d6d6" stroke-width="0.9"/>
<line x1="143.40" y1="223.50" x2="307.80" y2="223.50" stroke="#d6d6d6" stroke-width="0.9"/>
<line x1="143.40" y1="211.50" x2="307.80" y2="211.50" stroke="#d6d6d6" stroke-width="0.9"/>
<line x1="143.40" y1="200.50" x2="307.80" y2="200.50" stroke="#d6d6d6" stroke-width="0.9"/>
<line x1="143.40" y1="188.50" x2="307.80" y2="188.50" stroke="#d6d6d6" stroke-width="0.9"/>
<line x1="143.40" y1="176.50" x2="307.80" y2="176.50" stroke="#d6d6d6" stroke-width="0.9"/>
<line x1="143.40" y1="164.50" x2="307.80" y2="164.50" stroke="#d6d6d6" stroke-width="0.9"/>
<line x1="143.40" y1="152.50" x2="307.80" y2="152.50" stroke="#d6d6d6" stroke-width="0.9"/>
<line x1="307.50" y1="152.70" x2="307.50" y2="247.30" stroke="#b0b0b0" stroke-width="0.9"/>
<line x1="143.50" y1="152.70" x2="143.50" y2="247.30" stroke="#9a9a9a" stroke-width="0.9"/>
<line x1="143.40" y1="247.50" x2="307.80" y2="247.50" stroke="#666" stroke-width="0.9"/>
<line x1="143.50" y1="247.30" x2="143.50" y2="248.80" stroke="#888" stroke-width="0.6"/>
<line x1="163.50" y1="247.30" x2="163.50" y2="248.80" stroke="#888" stroke-width="0.6"/>
<line x1="184.50" y1="247.30" x2="184.50" y2="248.80" stroke="#888" stroke-width="0.6"/>
<line x1="205.50" y1="247.30" x2="205.50" y2="248.80" stroke="#888" stroke-width="0.6"/>
<line x1="225.50" y1="247.30" x2="225.50" y2="248.80" stroke="#888" stroke-width="0.6"/>
<line x1="246.50" y1="247.30" x2="246.50" y2="248.80" stroke="#888" stroke-width="0.6"/>
<line x1="266.50" y1="247.30" x2="266.50" y2="248.80" stroke="#888" stroke-width="0.6"/>
<line x1="287.50" y1="247.30" x2="287.50" y2="248.80" stroke="#888" stroke-width="0.6"/>
<line x1="307.50" y1="247.30" x2="307.50" y2="248.80" stroke="#888" stroke-width="0.6"/>
<text transform="translate(136.00 249.93) scale(0.8475 1)" font-size="7.32" text-anchor="end" fill="#111">0</text>
<text transform="translate(136.00 238.11) scale(0.8475 1)" font-size="7.32" text-anchor="end" fill="#111">100</text>
<text transform="translate(136.00 226.28) scale(0.8475 1)" font-size="7.32" text-anchor="end" fill="#111">200</text>
<text transform="translate(136.00 214.46) scale(0.8475 1)" font-size="7.32" text-anchor="end" fill="#111">300</text>
<text transform="translate(136.00 202.63) scale(0.8475 1)" font-size="7.32" text-anchor="end" fill="#111">400</text>
<text transform="translate(136.00 190.81) scale(0.8475 1)" font-size="7.32" text-anchor="end" fill="#111">500</text>
<text transform="translate(136.00 178.98) scale(0.8475 1)" font-size="7.32" text-anchor="end" fill="#111">600</text>
<text transform="translate(136.00 167.16) scale(0.8475 1)" font-size="7.32" text-anchor="end" fill="#111">700</text>
<text transform="translate(136.00 155.33) scale(0.8475 1)" font-size="7.32" text-anchor="end" fill="#111">800</text>
<rect x="190.10" y="236.54" width="8.70" height="10.76" fill="#000"/>
<line x1="194.50" y1="233.20" x2="194.50" y2="236.54" stroke="#222" stroke-width="0.6"/>
<line x1="193.45" y1="233.50" x2="195.45" y2="233.50" stroke="#222" stroke-width="0.6"/>
<rect x="210.85" y="236.54" width="8.70" height="10.76" fill="#000"/>
<line x1="215.50" y1="235.00" x2="215.50" y2="236.54" stroke="#222" stroke-width="0.6"/>
<line x1="214.20" y1="235.50" x2="216.20" y2="235.50" stroke="#222" stroke-width="0.6"/>
<rect x="231.40" y="166.65" width="8.70" height="80.65" fill="#000"/>
<line x1="235.50" y1="165.40" x2="235.50" y2="166.65" stroke="#222" stroke-width="0.6"/>
<line x1="234.75" y1="165.50" x2="236.75" y2="165.50" stroke="#222" stroke-width="0.6"/>
<rect x="252.05" y="168.90" width="8.70" height="78.40" fill="#000"/>
<line x1="256.50" y1="165.00" x2="256.50" y2="168.90" stroke="#222" stroke-width="0.6"/>
<line x1="255.40" y1="165.50" x2="257.40" y2="165.50" stroke="#222" stroke-width="0.6"/>
<rect x="272.50" y="235.12" width="8.70" height="12.18" fill="#000"/>
<line x1="276.50" y1="232.60" x2="276.50" y2="235.12" stroke="#222" stroke-width="0.6"/>
<line x1="275.85" y1="232.50" x2="277.85" y2="232.50" stroke="#222" stroke-width="0.6"/>
<rect x="293.25" y="168.66" width="8.70" height="78.64" fill="#000"/>
<line x1="297.50" y1="166.30" x2="297.50" y2="168.66" stroke="#222" stroke-width="0.6"/>
<line x1="296.60" y1="166.50" x2="298.60" y2="166.50" stroke="#222" stroke-width="0.6"/>
<text transform="translate(114.80 159.40)" font-size="12.40" text-anchor="start" font-weight="bold" fill="#000">E</text>
<text transform="translate(122.80 199.50) rotate(-90) scale(1.0870 1)" font-size="5.15" text-anchor="middle" font-weight="bold" fill="#333" textLength="34.04" lengthAdjust="spacingAndGlyphs">IFN<tspan font-size="4.5">&#947;</tspan> (pg/mL)</text>
<text transform="translate(145.20 254.19) scale(0.9524 1)" font-size="5.25" text-anchor="start" font-weight="bold" fill="#111">Donor</text>
<text transform="translate(145.20 259.94) scale(0.9524 1)" font-size="5.25" text-anchor="start" font-weight="bold" fill="#111">LCL</text>
<text transform="translate(166.00 254.19) scale(0.9524 1)" font-size="5.25" text-anchor="start" font-weight="bold" fill="#111">Patient</text>
<text transform="translate(166.00 259.94) scale(0.9524 1)" font-size="5.25" text-anchor="start" font-weight="bold" fill="#111">LCL</text>
<text transform="translate(186.40 254.19) scale(0.9524 1)" font-size="5.25" text-anchor="start" font-weight="bold" fill="#111">CTL</text>
<text transform="translate(186.40 259.94) scale(0.9524 1)" font-size="5.25" text-anchor="start" font-weight="bold" fill="#111">alone</text>
<text transform="translate(206.60 254.19) scale(0.9524 1)" font-size="5.25" text-anchor="start" font-weight="bold" fill="#111">CTL +</text>
<text transform="translate(206.60 259.94) scale(0.9524 1)" font-size="5.25" text-anchor="start" font-weight="bold" fill="#111">Donor</text>
<text transform="translate(206.60 265.69) scale(0.9524 1)" font-size="5.25" text-anchor="start" font-weight="bold" fill="#111">LCL</text>
<text transform="translate(226.40 254.19) scale(0.9524 1)" font-size="5.25" text-anchor="start" font-weight="bold" fill="#111">CTL +</text>
<text transform="translate(226.40 259.94) scale(0.9524 1)" font-size="5.25" text-anchor="start" font-weight="bold" fill="#111">Patient</text>
<text transform="translate(226.40 265.69) scale(0.9524 1)" font-size="5.25" text-anchor="start" font-weight="bold" fill="#111">LCL</text>
<text transform="translate(248.90 254.19) scale(0.9524 1)" font-size="5.25" text-anchor="start" font-weight="bold" fill="#111">CTL +</text>
<text transform="translate(248.90 259.94) scale(0.9524 1)" font-size="5.25" text-anchor="start" font-weight="bold" fill="#111">Patient</text>
<text transform="translate(248.90 265.69) scale(0.9524 1)" font-size="5.25" text-anchor="start" font-weight="bold" fill="#111">LCL +</text>
<text transform="translate(248.90 271.44) scale(0.9524 1)" font-size="5.25" text-anchor="start" font-weight="bold" fill="#111">W632</text>
<text transform="translate(270.30 254.19) scale(0.9524 1)" font-size="5.25" text-anchor="start" font-weight="bold" fill="#111">CTL +</text>
<text transform="translate(270.30 259.94) scale(0.9524 1)" font-size="5.25" text-anchor="start" font-weight="bold" fill="#111">Patient</text>
<text transform="translate(270.30 265.69) scale(0.9524 1)" font-size="5.25" text-anchor="start" font-weight="bold" fill="#111">LCL +</text>
<text transform="translate(270.30 271.44) scale(0.9524 1)" font-size="5.25" text-anchor="start" font-weight="bold" fill="#111">DR Ab</text>
<text transform="translate(291.30 254.19) scale(0.9524 1)" font-size="5.25" text-anchor="start" font-weight="bold" fill="#111">CTL +</text>
<text transform="translate(291.30 259.94) scale(0.9524 1)" font-size="5.25" text-anchor="start" font-weight="bold" fill="#111">Control</text>
<text transform="translate(291.30 265.69) scale(0.9524 1)" font-size="5.25" text-anchor="start" font-weight="bold" fill="#111">Ab</text>
<line x1="350.50" y1="219.50" x2="518.30" y2="219.50" stroke="#d6d6d6" stroke-width="0.9"/>
<line x1="350.50" y1="204.50" x2="518.30" y2="204.50" stroke="#d6d6d6" stroke-width="0.9"/>
<line x1="350.50" y1="189.50" x2="518.30" y2="189.50" stroke="#d6d6d6" stroke-width="0.9"/>
<line x1="350.50" y1="173.50" x2="518.30" y2="173.50" stroke="#d6d6d6" stroke-width="0.9"/>
<line x1="350.50" y1="158.50" x2="518.30" y2="158.50" stroke="#d6d6d6" stroke-width="0.9"/>
<line x1="518.50" y1="158.80" x2="518.50" y2="234.40" stroke="#b0b0b0" stroke-width="0.9"/>
<line x1="350.50" y1="158.80" x2="350.50" y2="234.40" stroke="#9a9a9a" stroke-width="0.9"/>
<line x1="350.50" y1="234.50" x2="518.30" y2="234.50" stroke="#666" stroke-width="0.9"/>
<line x1="350.50" y1="234.40" x2="350.50" y2="235.90" stroke="#888" stroke-width="0.6"/>
<line x1="378.50" y1="234.40" x2="378.50" y2="235.90" stroke="#888" stroke-width="0.6"/>
<line x1="406.50" y1="234.40" x2="406.50" y2="235.90" stroke="#888" stroke-width="0.6"/>
<line x1="434.50" y1="234.40" x2="434.50" y2="235.90" stroke="#888" stroke-width="0.6"/>
<line x1="462.50" y1="234.40" x2="462.50" y2="235.90" stroke="#888" stroke-width="0.6"/>
<line x1="490.50" y1="234.40" x2="490.50" y2="235.90" stroke="#888" stroke-width="0.6"/>
<line x1="518.50" y1="234.40" x2="518.50" y2="235.90" stroke="#888" stroke-width="0.6"/>
<text transform="translate(346.80 237.12) scale(0.8475 1)" font-size="7.55" text-anchor="end" fill="#111">0</text>
<text transform="translate(346.80 222.00) scale(0.8475 1)" font-size="7.55" text-anchor="end" fill="#111">200</text>
<text transform="translate(346.80 206.88) scale(0.8475 1)" font-size="7.55" text-anchor="end" fill="#111">400</text>
<text transform="translate(346.80 191.76) scale(0.8475 1)" font-size="7.55" text-anchor="end" fill="#111">600</text>
<text transform="translate(346.80 176.64) scale(0.8475 1)" font-size="7.55" text-anchor="end" fill="#111">800</text>
<text transform="translate(346.80 161.52) scale(0.8475 1)" font-size="7.55" text-anchor="end" fill="#111">1000</text>
<rect x="359.00" y="229.71" width="11.20" height="4.69" fill="#000"/>
<line x1="364.50" y1="228.80" x2="364.50" y2="229.71" stroke="#222" stroke-width="0.6"/>
<line x1="363.60" y1="228.50" x2="365.60" y2="228.50" stroke="#222" stroke-width="0.6"/>
<rect x="386.80" y="226.99" width="11.20" height="7.41" fill="#000"/>
<line x1="392.50" y1="226.20" x2="392.50" y2="226.99" stroke="#222" stroke-width="0.6"/>
<line x1="391.40" y1="226.50" x2="393.40" y2="226.50" stroke="#222" stroke-width="0.6"/>
<rect x="415.25" y="167.27" width="11.20" height="67.13" fill="#000"/>
<line x1="420.50" y1="165.30" x2="420.50" y2="167.27" stroke="#222" stroke-width="0.6"/>
<line x1="419.85" y1="165.50" x2="421.85" y2="165.50" stroke="#222" stroke-width="0.6"/>
<rect x="442.85" y="206.81" width="11.20" height="27.59" fill="#000"/>
<line x1="448.50" y1="205.30" x2="448.50" y2="206.81" stroke="#222" stroke-width="0.6"/>
<line x1="447.45" y1="205.50" x2="449.45" y2="205.50" stroke="#222" stroke-width="0.6"/>
<rect x="470.70" y="219.66" width="11.20" height="14.74" fill="#000"/>
<line x1="476.50" y1="217.90" x2="476.50" y2="219.66" stroke="#222" stroke-width="0.6"/>
<line x1="475.30" y1="217.50" x2="477.30" y2="217.50" stroke="#222" stroke-width="0.6"/>
<rect x="498.50" y="230.09" width="11.20" height="4.31" fill="#000"/>
<line x1="504.50" y1="229.20" x2="504.50" y2="230.09" stroke="#222" stroke-width="0.6"/>
<line x1="503.10" y1="229.50" x2="505.10" y2="229.50" stroke="#222" stroke-width="0.6"/>
<text transform="translate(322.40 159.40)" font-size="13.20" text-anchor="start" font-weight="bold" fill="#000">F</text>
<text transform="translate(331.00 190.00) rotate(-90)" font-size="8.30" text-anchor="middle" font-weight="bold" fill="#111" textLength="51.00" lengthAdjust="spacingAndGlyphs">IFN<tspan font-size="6.5">&#947;</tspan> (pg/mL)</text>
<text transform="translate(359.90 245.91) scale(0.8696 1)" font-size="5.69" text-anchor="start" fill="#111">CTL</text>
<text transform="translate(359.90 251.86) scale(0.8696 1)" font-size="5.69" text-anchor="start" fill="#111">alone</text>
<text transform="translate(386.90 245.91) scale(0.8696 1)" font-size="5.69" text-anchor="start" fill="#111">CTL +</text>
<text transform="translate(386.90 251.86) scale(0.8696 1)" font-size="5.69" text-anchor="start" fill="#111">Donor</text>
<text transform="translate(386.90 257.81) scale(0.8696 1)" font-size="5.69" text-anchor="start" fill="#111">LCL</text>
<text transform="translate(415.30 245.91) scale(0.8696 1)" font-size="5.69" text-anchor="start" fill="#111">CTL +</text>
<text transform="translate(415.30 251.86) scale(0.8696 1)" font-size="5.69" text-anchor="start" fill="#111">Patient</text>
<text transform="translate(417.10 257.81) scale(0.8696 1)" font-size="5.69" text-anchor="start" fill="#111">LCL</text>
<text transform="translate(440.00 245.91) scale(0.8696 1)" font-size="5.69" text-anchor="start" fill="#111">CTL +</text>
<text transform="translate(440.00 251.86) scale(0.8696 1)" font-size="5.69" text-anchor="start" fill="#111">Patient</text>
<text transform="translate(441.80 257.81) scale(0.8696 1)" font-size="5.69" text-anchor="start" fill="#111">Monos</text>
<text transform="translate(441.80 263.76) scale(0.8696 1)" font-size="5.69" text-anchor="start" fill="#111">GPI(-)</text>
<text transform="translate(468.10 245.91) scale(0.8696 1)" font-size="5.69" text-anchor="start" fill="#111">CTL +</text>
<text transform="translate(468.10 251.86) scale(0.8696 1)" font-size="5.69" text-anchor="start" fill="#111">Patient</text>
<text transform="translate(468.10 257.81) scale(0.8696 1)" font-size="5.69" text-anchor="start" fill="#111">Monos</text>
<text transform="translate(468.10 263.76) scale(0.8696 1)" font-size="5.69" text-anchor="start" fill="#111">GPI(+)</text>
<text transform="translate(499.20 245.91) scale(0.8696 1)" font-size="5.69" text-anchor="start" fill="#111">CTL +</text>
<text transform="translate(499.20 251.86) scale(0.8696 1)" font-size="5.69" text-anchor="start" fill="#111">K562</text>
<line x1="321.60" y1="104.50" x2="431.80" y2="104.50" stroke="#d6d6d6" stroke-width="0.9"/>
<line x1="321.60" y1="93.50" x2="431.80" y2="93.50" stroke="#d6d6d6" stroke-width="0.9"/>
<line x1="321.60" y1="83.50" x2="431.80" y2="83.50" stroke="#d6d6d6" stroke-width="0.9"/>
<line x1="321.60" y1="73.50" x2="431.80" y2="73.50" stroke="#d6d6d6" stroke-width="0.9"/>
<line x1="321.60" y1="63.50" x2="431.80" y2="63.50" stroke="#d6d6d6" stroke-width="0.9"/>
<line x1="321.60" y1="52.50" x2="431.80" y2="52.50" stroke="#d6d6d6" stroke-width="0.9"/>
<line x1="321.60" y1="42.50" x2="431.80" y2="42.50" stroke="#d6d6d6" stroke-width="0.9"/>
<line x1="321.60" y1="32.50" x2="431.80" y2="32.50" stroke="#d6d6d6" stroke-width="0.9"/>
<line x1="321.60" y1="21.50" x2="431.80" y2="21.50" stroke="#d6d6d6" stroke-width="0.9"/>
<line x1="321.60" y1="11.50" x2="431.80" y2="11.50" stroke="#d6d6d6" stroke-width="0.9"/>
<line x1="321.50" y1="11.50" x2="321.50" y2="114.60" stroke="#999" stroke-width="0.9"/>
<line x1="321.60" y1="114.50" x2="431.80" y2="114.50" stroke="#999" stroke-width="0.9"/>
<text transform="translate(318.60 118.85) scale(0.8333 1)" font-size="7.92" text-anchor="end" fill="#111">0</text>
<text transform="translate(318.60 108.54) scale(0.8333 1)" font-size="7.92" text-anchor="end" fill="#111">10</text>
<text transform="translate(318.60 98.23) scale(0.8333 1)" font-size="7.92" text-anchor="end" fill="#111">20</text>
<text transform="translate(318.60 87.92) scale(0.8333 1)" font-size="7.92" text-anchor="end" fill="#111">30</text>
<text transform="translate(318.60 77.61) scale(0.8333 1)" font-size="7.92" text-anchor="end" fill="#111">40</text>
<text transform="translate(318.60 67.30) scale(0.8333 1)" font-size="7.92" text-anchor="end" fill="#111">50</text>
<text transform="translate(318.60 56.99) scale(0.8333 1)" font-size="7.92" text-anchor="end" fill="#111">60</text>
<text transform="translate(318.60 46.68) scale(0.8333 1)" font-size="7.92" text-anchor="end" fill="#111">70</text>
<text transform="translate(318.60 36.37) scale(0.8333 1)" font-size="7.92" text-anchor="end" fill="#111">80</text>
<text transform="translate(318.60 26.06) scale(0.8333 1)" font-size="7.92" text-anchor="end" fill="#111">90</text>
<text transform="translate(318.60 15.75) scale(0.8333 1)" font-size="7.92" text-anchor="end" fill="#111">100</text>
<text transform="translate(331.20 126.47) scale(0.8696 1)" font-size="7.93" text-anchor="middle" fill="#111">0.31</text>
<text transform="translate(349.50 126.47) scale(0.8696 1)" font-size="7.93" text-anchor="middle" fill="#111">0.62</text>
<text transform="translate(367.90 126.47) scale(0.8696 1)" font-size="7.93" text-anchor="middle" fill="#111">1.25</text>
<text transform="translate(386.20 126.47) scale(0.8696 1)" font-size="7.93" text-anchor="middle" fill="#111">2.5</text>
<text transform="translate(404.60 126.47) scale(0.8696 1)" font-size="7.93" text-anchor="middle" fill="#111">5</text>
<text transform="translate(422.90 126.47) scale(0.8696 1)" font-size="7.93" text-anchor="middle" fill="#111">10</text>
<text transform="translate(378.60 135.30) scale(0.8696 1)" font-size="8.74" text-anchor="middle" font-weight="bold" fill="#000">E/T ratio</text>
<text transform="translate(304.00 50.60) rotate(-90)" font-size="8.10" text-anchor="middle" font-weight="bold" fill="#000" textLength="61.00" lengthAdjust="spacingAndGlyphs">% Specific lysis</text>
<text transform="translate(296.20 10.00)" font-size="13.60" text-anchor="start" font-weight="bold" fill="#000">C</text>
<text transform="translate(329.90 7.60) scale(0.8696 1)" font-size="9.20" text-anchor="start" font-weight="bold" fill="#000" textLength="52.21" lengthAdjust="spacingAndGlyphs">Cytotoxicity</text>
<text transform="translate(378.60 7.60) scale(0.8696 1)" font-size="9.20" text-anchor="start" fill="#000" textLength="12.88" lengthAdjust="spacingAndGlyphs">(Cr</text>
<text transform="translate(390.30 4.60) scale(0.9091 1)" font-size="5.50" text-anchor="start" fill="#000" textLength="6.16" lengthAdjust="spacingAndGlyphs">51</text>
<text transform="translate(399.80 7.60) scale(0.8696 1)" font-size="9.20" text-anchor="start" fill="#000" textLength="58.88" lengthAdjust="spacingAndGlyphs">release assay)</text>
<polyline points="331.20,72.95 349.50,50.68 367.90,36.86 386.20,31.40 404.60,33.56 422.90,34.70" fill="none" stroke="#000" stroke-width="1.5"/>
<line x1="331.50" y1="71.45" x2="331.50" y2="74.45" stroke="#222" stroke-width="0.6"/>
<line x1="330.30" y1="71.50" x2="332.10" y2="71.50" stroke="#222" stroke-width="0.6"/>
<line x1="330.30" y1="74.50" x2="332.10" y2="74.50" stroke="#222" stroke-width="0.6"/>
<line x1="349.50" y1="44.98" x2="349.50" y2="56.38" stroke="#222" stroke-width="0.6"/>
<line x1="348.60" y1="44.50" x2="350.40" y2="44.50" stroke="#222" stroke-width="0.6"/>
<line x1="348.60" y1="56.50" x2="350.40" y2="56.50" stroke="#222" stroke-width="0.6"/>
<line x1="367.50" y1="35.36" x2="367.50" y2="38.36" stroke="#222" stroke-width="0.6"/>
<line x1="367.00" y1="35.50" x2="368.80" y2="35.50" stroke="#222" stroke-width="0.6"/>
<line x1="367.00" y1="38.50" x2="368.80" y2="38.50" stroke="#222" stroke-width="0.6"/>
<line x1="386.50" y1="28.10" x2="386.50" y2="34.70" stroke="#222" stroke-width="0.6"/>
<line x1="385.30" y1="28.50" x2="387.10" y2="28.50" stroke="#222" stroke-width="0.6"/>
<line x1="385.30" y1="34.50" x2="387.10" y2="34.50" stroke="#222" stroke-width="0.6"/>
<line x1="404.50" y1="28.86" x2="404.50" y2="38.26" stroke="#222" stroke-width="0.6"/>
<line x1="403.70" y1="28.50" x2="405.50" y2="28.50" stroke="#222" stroke-width="0.6"/>
<line x1="403.70" y1="38.50" x2="405.50" y2="38.50" stroke="#222" stroke-width="0.6"/>
<line x1="422.50" y1="29.10" x2="422.50" y2="40.30" stroke="#222" stroke-width="0.6"/>
<line x1="422.00" y1="29.50" x2="423.80" y2="29.50" stroke="#222" stroke-width="0.6"/>
<line x1="422.00" y1="40.50" x2="423.80" y2="40.50" stroke="#222" stroke-width="0.6"/>
<polyline points="331.20,83.67 349.50,85.73 367.90,84.91 386.20,75.83 404.60,63.15 422.90,66.35" fill="none" stroke="#000" stroke-width="1.5"/>
<line x1="331.50" y1="81.67" x2="331.50" y2="85.67" stroke="#222" stroke-width="0.6"/>
<line x1="330.30" y1="81.50" x2="332.10" y2="81.50" stroke="#222" stroke-width="0.6"/>
<line x1="330.30" y1="85.50" x2="332.10" y2="85.50" stroke="#222" stroke-width="0.6"/>
<line x1="349.50" y1="81.73" x2="349.50" y2="89.73" stroke="#222" stroke-width="0.6"/>
<line x1="348.60" y1="81.50" x2="350.40" y2="81.50" stroke="#222" stroke-width="0.6"/>
<line x1="348.60" y1="89.50" x2="350.40" y2="89.50" stroke="#222" stroke-width="0.6"/>
<line x1="367.50" y1="82.91" x2="367.50" y2="86.91" stroke="#222" stroke-width="0.6"/>
<line x1="367.00" y1="82.50" x2="368.80" y2="82.50" stroke="#222" stroke-width="0.6"/>
<line x1="367.00" y1="86.50" x2="368.80" y2="86.50" stroke="#222" stroke-width="0.6"/>
<line x1="386.50" y1="72.83" x2="386.50" y2="78.83" stroke="#222" stroke-width="0.6"/>
<line x1="385.30" y1="72.50" x2="387.10" y2="72.50" stroke="#222" stroke-width="0.6"/>
<line x1="385.30" y1="78.50" x2="387.10" y2="78.50" stroke="#222" stroke-width="0.6"/>
<line x1="404.50" y1="57.35" x2="404.50" y2="68.95" stroke="#222" stroke-width="0.6"/>
<line x1="403.70" y1="57.50" x2="405.50" y2="57.50" stroke="#222" stroke-width="0.6"/>
<line x1="403.70" y1="68.50" x2="405.50" y2="68.50" stroke="#222" stroke-width="0.6"/>
<line x1="422.50" y1="63.35" x2="422.50" y2="69.35" stroke="#222" stroke-width="0.6"/>
<line x1="422.00" y1="63.50" x2="423.80" y2="63.50" stroke="#222" stroke-width="0.6"/>
<line x1="422.00" y1="69.50" x2="423.80" y2="69.50" stroke="#222" stroke-width="0.6"/>
<polyline points="331.20,86.76 349.50,81.61 367.90,78.52 386.20,69.24 404.60,72.33 422.90,66.35" fill="none" stroke="#000" stroke-width="1.5"/>
<line x1="331.50" y1="83.76" x2="331.50" y2="89.76" stroke="#222" stroke-width="0.6"/>
<line x1="330.30" y1="83.50" x2="332.10" y2="83.50" stroke="#222" stroke-width="0.6"/>
<line x1="330.30" y1="89.50" x2="332.10" y2="89.50" stroke="#222" stroke-width="0.6"/>
<line x1="349.50" y1="72.81" x2="349.50" y2="90.41" stroke="#222" stroke-width="0.6"/>
<line x1="348.60" y1="72.50" x2="350.40" y2="72.50" stroke="#222" stroke-width="0.6"/>
<line x1="348.60" y1="90.50" x2="350.40" y2="90.50" stroke="#222" stroke-width="0.6"/>
<line x1="367.50" y1="75.02" x2="367.50" y2="82.02" stroke="#222" stroke-width="0.6"/>
<line x1="367.00" y1="75.50" x2="368.80" y2="75.50" stroke="#222" stroke-width="0.6"/>
<line x1="367.00" y1="82.50" x2="368.80" y2="82.50" stroke="#222" stroke-width="0.6"/>
<line x1="386.50" y1="63.44" x2="386.50" y2="75.04" stroke="#222" stroke-width="0.6"/>
<line x1="385.30" y1="63.50" x2="387.10" y2="63.50" stroke="#222" stroke-width="0.6"/>
<line x1="385.30" y1="75.50" x2="387.10" y2="75.50" stroke="#222" stroke-width="0.6"/>
<line x1="404.50" y1="67.83" x2="404.50" y2="76.83" stroke="#222" stroke-width="0.6"/>
<line x1="403.70" y1="67.50" x2="405.50" y2="67.50" stroke="#222" stroke-width="0.6"/>
<line x1="403.70" y1="76.50" x2="405.50" y2="76.50" stroke="#222" stroke-width="0.6"/>
<line x1="422.50" y1="62.35" x2="422.50" y2="70.35" stroke="#222" stroke-width="0.6"/>
<line x1="422.00" y1="62.50" x2="423.80" y2="62.50" stroke="#222" stroke-width="0.6"/>
<line x1="422.00" y1="70.50" x2="423.80" y2="70.50" stroke="#222" stroke-width="0.6"/>
<polyline points="331.20,114.29 349.50,114.60 367.90,113.98 386.20,114.60 404.60,114.60 422.90,114.39" fill="none" stroke="#000" stroke-width="1.5"/>
<line x1="331.50" y1="110.69" x2="331.50" y2="117.89" stroke="#222" stroke-width="0.6"/>
<line x1="330.30" y1="110.50" x2="332.10" y2="110.50" stroke="#222" stroke-width="0.6"/>
<line x1="330.30" y1="117.50" x2="332.10" y2="117.50" stroke="#222" stroke-width="0.6"/>
<line x1="349.50" y1="114.20" x2="349.50" y2="115.00" stroke="#222" stroke-width="0.6"/>
<line x1="348.60" y1="114.50" x2="350.40" y2="114.50" stroke="#222" stroke-width="0.6"/>
<line x1="348.60" y1="115.50" x2="350.40" y2="115.50" stroke="#222" stroke-width="0.6"/>
<line x1="367.50" y1="113.18" x2="367.50" y2="114.78" stroke="#222" stroke-width="0.6"/>
<line x1="367.00" y1="113.50" x2="368.80" y2="113.50" stroke="#222" stroke-width="0.6"/>
<line x1="367.00" y1="114.50" x2="368.80" y2="114.50" stroke="#222" stroke-width="0.6"/>
<line x1="386.50" y1="114.20" x2="386.50" y2="115.00" stroke="#222" stroke-width="0.6"/>
<line x1="385.30" y1="114.50" x2="387.10" y2="114.50" stroke="#222" stroke-width="0.6"/>
<line x1="385.30" y1="115.50" x2="387.10" y2="115.50" stroke="#222" stroke-width="0.6"/>
<line x1="404.50" y1="114.20" x2="404.50" y2="115.00" stroke="#222" stroke-width="0.6"/>
<line x1="403.70" y1="114.50" x2="405.50" y2="114.50" stroke="#222" stroke-width="0.6"/>
<line x1="403.70" y1="115.50" x2="405.50" y2="115.50" stroke="#222" stroke-width="0.6"/>
<line x1="422.50" y1="113.59" x2="422.50" y2="115.19" stroke="#222" stroke-width="0.6"/>
<line x1="422.00" y1="113.50" x2="423.80" y2="113.50" stroke="#222" stroke-width="0.6"/>
<line x1="422.00" y1="115.50" x2="423.80" y2="115.50" stroke="#222" stroke-width="0.6"/>
<rect x="329.20" y="70.95" width="4.00" height="4.00" fill="#000"/>
<rect x="347.50" y="48.68" width="4.00" height="4.00" fill="#000"/>
<rect x="365.90" y="34.86" width="4.00" height="4.00" fill="#000"/>
<rect x="384.20" y="29.40" width="4.00" height="4.00" fill="#000"/>
<rect x="402.60" y="31.56" width="4.00" height="4.00" fill="#000"/>
<rect x="420.90" y="32.70" width="4.00" height="4.00" fill="#000"/>
<circle cx="331.20" cy="83.67" r="1.70" fill="#fff" stroke="#000" stroke-width="0.9"/>
<circle cx="349.50" cy="85.73" r="1.70" fill="#fff" stroke="#000" stroke-width="0.9"/>
<circle cx="367.90" cy="84.91" r="1.70" fill="#fff" stroke="#000" stroke-width="0.9"/>
<circle cx="386.20" cy="75.83" r="1.70" fill="#fff" stroke="#000" stroke-width="0.9"/>
<circle cx="404.60" cy="63.15" r="1.70" fill="#fff" stroke="#000" stroke-width="0.9"/>
<circle cx="422.90" cy="66.35" r="1.70" fill="#fff" stroke="#000" stroke-width="0.9"/>
<path d="M331.20,84.26L333.70,86.76L331.20,89.26L328.70,86.76Z" fill="#000"/>
<path d="M349.50,79.11L352.00,81.61L349.50,84.11L347.00,81.61Z" fill="#000"/>
<path d="M367.90,76.02L370.40,78.52L367.90,81.02L365.40,78.52Z" fill="#000"/>
<path d="M386.20,66.74L388.70,69.24L386.20,71.74L383.70,69.24Z" fill="#000"/>
<path d="M404.60,69.83L407.10,72.33L404.60,74.83L402.10,72.33Z" fill="#000"/>
<path d="M422.90,63.85L425.40,66.35L422.90,68.85L420.40,66.35Z" fill="#000"/>
<rect x="329.60" y="112.69" width="3.20" height="3.20" fill="#fff" stroke="#000" stroke-width="0.9"/>
<rect x="347.90" y="113.00" width="3.20" height="3.20" fill="#fff" stroke="#000" stroke-width="0.9"/>
<rect x="366.30" y="112.38" width="3.20" height="3.20" fill="#fff" stroke="#000" stroke-width="0.9"/>
<rect x="384.60" y="113.00" width="3.20" height="3.20" fill="#fff" stroke="#000" stroke-width="0.9"/>
<rect x="403.00" y="113.00" width="3.20" height="3.20" fill="#fff" stroke="#000" stroke-width="0.9"/>
<rect x="421.30" y="112.79" width="3.20" height="3.20" fill="#fff" stroke="#000" stroke-width="0.9"/>
<path d="M331.20,112.59L333.00,115.83L329.40,115.83Z" fill="#fff" stroke="#000" stroke-width="0.9"/>
<path d="M349.50,112.59L351.30,115.83L347.70,115.83Z" fill="#fff" stroke="#000" stroke-width="0.9"/>
<path d="M367.90,112.39L369.70,115.63L366.10,115.63Z" fill="#fff" stroke="#000" stroke-width="0.9"/>
<path d="M386.20,112.80L388.00,116.04L384.40,116.04Z" fill="#fff" stroke="#000" stroke-width="0.9"/>
<path d="M404.60,112.80L406.40,116.04L402.80,116.04Z" fill="#fff" stroke="#000" stroke-width="0.9"/>
<path d="M422.90,112.18L424.70,115.42L421.10,115.42Z" fill="#fff" stroke="#000" stroke-width="0.9"/>
<line x1="440.00" y1="38.10" x2="450.90" y2="38.10" stroke="#000" stroke-width="1.3"/>
<rect x="443.30" y="36.20" width="3.80" height="3.80" fill="#000"/>
<text transform="translate(452.80 41.90) scale(0.8929 1)" font-size="8.06" text-anchor="start" fill="#111">Patient LCL</text>
<line x1="440.00" y1="51.00" x2="450.90" y2="51.00" stroke="#000" stroke-width="1.3"/>
<rect x="443.68" y="49.48" width="3.04" height="3.04" fill="#fff" stroke="#000" stroke-width="0.9"/>
<text transform="translate(452.80 55.40) scale(0.8929 1)" font-size="8.06" text-anchor="start" fill="#111">Donor LCL</text>
<line x1="440.00" y1="65.40" x2="450.90" y2="65.40" stroke="#000" stroke-width="1.3"/>
<circle cx="445.20" cy="65.40" r="1.61" fill="#fff" stroke="#000" stroke-width="0.9"/>
<text transform="translate(452.80 69.50) scale(0.8929 1)" font-size="8.06" text-anchor="start" fill="#111">Patient GPI negative</text>
<text transform="translate(452.80 75.00) scale(0.8929 1)" font-size="8.06" text-anchor="start" fill="#111">B cell</text>
<line x1="440.00" y1="79.20" x2="450.90" y2="79.20" stroke="#000" stroke-width="1.3"/>
<path d="M445.20,76.83L447.57,79.20L445.20,81.58L442.82,79.20Z" fill="#000"/>
<text transform="translate(452.80 83.40) scale(0.8929 1)" font-size="8.06" text-anchor="start" fill="#111">Patient GPI positive</text>
<text transform="translate(452.80 88.90) scale(0.8929 1)" font-size="8.06" text-anchor="start" fill="#111">B cell</text>
<line x1="440.00" y1="93.80" x2="450.90" y2="93.80" stroke="#000" stroke-width="1.3"/>
<path d="M445.20,91.90L447.10,95.32L443.30,95.32Z" fill="#fff" stroke="#000" stroke-width="0.9"/>
<text transform="translate(452.80 97.80) scale(0.8929 1)" font-size="8.06" text-anchor="start" fill="#111">K562</text>
</svg>
</body></html>
